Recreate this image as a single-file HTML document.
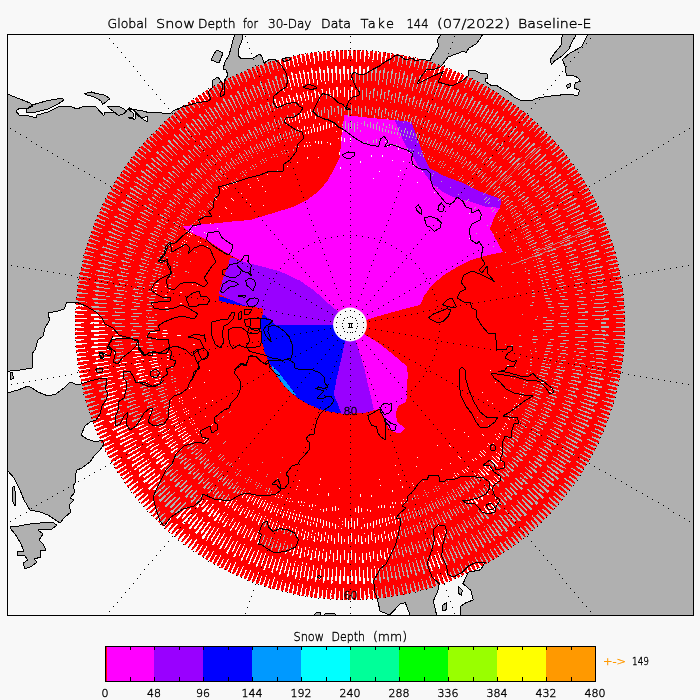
<!DOCTYPE html>
<html lang="en"><head><meta charset="utf-8"><title>Global Snow Depth</title>
<style>
html,body{margin:0;padding:0;background:#f8f8f8;}
body{width:700px;height:700px;overflow:hidden;}
svg{display:block;font-family:"DejaVu Sans","Liberation Sans",sans-serif;font-weight:200;}
text{stroke:#000;stroke-width:0.38px;}
</style></head><body>
<svg width="700" height="700" viewBox="0 0 700 700">
<defs>
<clipPath id="frame"><rect x="7.5" y="34.5" width="686" height="581"/></clipPath>
<mask id="gaps" maskUnits="userSpaceOnUse" x="0" y="0" width="700" height="700">
<rect x="0" y="0" width="700" height="700" fill="#fff"/>
<g fill="none" stroke="#000" shape-rendering="crispEdges">
<path d="M609.73 273.34A264.82 264.82 0 0 1 609.73 376.66" stroke-width="2.64" stroke-dasharray="0.681 7.6389" stroke-dashoffset="0.3403"/>
<path d="M609.73 376.66A264.82 264.82 0 0 1 570.19 472.13" stroke-width="2.64" stroke-dasharray="1.001 7.3185" stroke-dashoffset="0.5005"/>
<path d="M570.19 472.13A264.82 264.82 0 0 1 497.13 545.19" stroke-width="2.64" stroke-dasharray="1.201 7.1183" stroke-dashoffset="0.6006"/>
<path d="M497.13 545.19A264.82 264.82 0 0 1 401.66 584.73" stroke-width="2.64" stroke-dasharray="0.841 7.4787" stroke-dashoffset="0.4204"/>
<path d="M401.66 584.73A264.82 264.82 0 0 1 298.34 584.73" stroke-width="2.64" stroke-dasharray="0.801 7.5187" stroke-dashoffset="0.4004"/>
<path d="M298.34 584.73A264.82 264.82 0 0 1 202.87 545.19" stroke-width="2.64" stroke-dasharray="0.801 7.5187" stroke-dashoffset="0.4004"/>
<path d="M202.87 545.19A264.82 264.82 0 0 1 129.81 472.13" stroke-width="2.64" stroke-dasharray="1.161 7.1584" stroke-dashoffset="0.5806"/>
<path d="M129.81 472.13A264.82 264.82 0 0 1 90.27 376.66" stroke-width="2.64" stroke-dasharray="0.961 7.3586" stroke-dashoffset="0.4805"/>
<path d="M90.27 376.66A264.82 264.82 0 0 1 90.27 273.34" stroke-width="2.64" stroke-dasharray="0.841 7.4787" stroke-dashoffset="0.4204"/>
<path d="M90.27 273.34A264.82 264.82 0 0 1 129.81 177.87" stroke-width="2.64" stroke-dasharray="0.817 7.5027" stroke-dashoffset="0.4084"/>
<path d="M129.81 177.87A264.82 264.82 0 0 1 202.87 104.81" stroke-width="2.64" stroke-dasharray="0.817 7.5027" stroke-dashoffset="0.4084"/>
<path d="M202.87 104.81A264.82 264.82 0 0 1 298.34 65.27" stroke-width="2.64" stroke-dasharray="0.817 7.5027" stroke-dashoffset="0.4084"/>
<path d="M298.34 65.27A264.82 264.82 0 0 1 401.66 65.27" stroke-width="2.64" stroke-dasharray="0.817 7.5027" stroke-dashoffset="0.4084"/>
<path d="M401.66 65.27A264.82 264.82 0 0 1 497.13 104.81" stroke-width="2.64" stroke-dasharray="0.817 7.5027" stroke-dashoffset="0.4084"/>
<path d="M497.13 104.81A264.82 264.82 0 0 1 570.19 177.87" stroke-width="2.64" stroke-dasharray="0.841 7.4787" stroke-dashoffset="0.4204"/>
<path d="M570.19 177.87A264.82 264.82 0 0 1 609.73 273.34" stroke-width="2.64" stroke-dasharray="0.801 7.5187" stroke-dashoffset="0.4004"/>
<path d="M612.67 272.75A267.82 267.82 0 0 1 612.67 377.25" stroke-width="3.36" stroke-dasharray="0.836 3.3710" stroke-dashoffset="0.4180"/>
<path d="M612.67 377.25A267.82 267.82 0 0 1 572.68 473.79" stroke-width="3.36" stroke-dasharray="1.229 2.9776" stroke-dashoffset="0.6146"/>
<path d="M572.68 473.79A267.82 267.82 0 0 1 498.79 547.68" stroke-width="3.36" stroke-dasharray="1.475 2.7318" stroke-dashoffset="0.7376"/>
<path d="M498.79 547.68A267.82 267.82 0 0 1 402.25 587.67" stroke-width="3.36" stroke-dasharray="1.033 3.1743" stroke-dashoffset="0.5163"/>
<path d="M402.25 587.67A267.82 267.82 0 0 1 297.75 587.67" stroke-width="3.36" stroke-dasharray="0.983 3.2235" stroke-dashoffset="0.4917"/>
<path d="M297.75 587.67A267.82 267.82 0 0 1 201.21 547.68" stroke-width="3.36" stroke-dasharray="0.983 3.2235" stroke-dashoffset="0.4917"/>
<path d="M201.21 547.68A267.82 267.82 0 0 1 127.32 473.79" stroke-width="3.36" stroke-dasharray="1.426 2.7809" stroke-dashoffset="0.7130"/>
<path d="M127.32 473.79A267.82 267.82 0 0 1 87.33 377.25" stroke-width="3.36" stroke-dasharray="1.180 3.0268" stroke-dashoffset="0.5901"/>
<path d="M87.33 377.25A267.82 267.82 0 0 1 87.33 272.75" stroke-width="3.36" stroke-dasharray="1.033 3.1743" stroke-dashoffset="0.5163"/>
<path d="M87.33 272.75A267.82 267.82 0 0 1 127.32 176.21" stroke-width="3.36" stroke-dasharray="1.003 3.2038" stroke-dashoffset="0.5016"/>
<path d="M127.32 176.21A267.82 267.82 0 0 1 201.21 102.32" stroke-width="3.36" stroke-dasharray="1.003 3.2038" stroke-dashoffset="0.5016"/>
<path d="M201.21 102.32A267.82 267.82 0 0 1 297.75 62.33" stroke-width="3.36" stroke-dasharray="1.003 3.2038" stroke-dashoffset="0.5016"/>
<path d="M297.75 62.33A267.82 267.82 0 0 1 402.25 62.33" stroke-width="3.36" stroke-dasharray="1.003 3.2038" stroke-dashoffset="0.5016"/>
<path d="M402.25 62.33A267.82 267.82 0 0 1 498.79 102.32" stroke-width="3.36" stroke-dasharray="1.003 3.2038" stroke-dashoffset="0.5016"/>
<path d="M498.79 102.32A267.82 267.82 0 0 1 572.68 176.21" stroke-width="3.36" stroke-dasharray="1.033 3.1743" stroke-dashoffset="0.5163"/>
<path d="M572.68 176.21A267.82 267.82 0 0 1 612.67 272.75" stroke-width="3.36" stroke-dasharray="0.983 3.2235" stroke-dashoffset="0.4917"/>
<path d="M615.97 272.10A271.18 271.18 0 0 1 615.97 377.90" stroke-width="3.36" stroke-dasharray="1.145 3.1145" stroke-dashoffset="0.5726"/>
<path d="M615.97 377.90A271.18 271.18 0 0 1 575.48 475.66" stroke-width="3.36" stroke-dasharray="1.684 2.5757" stroke-dashoffset="0.8420"/>
<path d="M575.48 475.66A271.18 271.18 0 0 1 500.66 550.48" stroke-width="3.36" stroke-dasharray="2.021 2.2389" stroke-dashoffset="1.0104"/>
<path d="M500.66 550.48A271.18 271.18 0 0 1 402.90 590.97" stroke-width="3.36" stroke-dasharray="1.415 2.8451" stroke-dashoffset="0.7073"/>
<path d="M402.90 590.97A271.18 271.18 0 0 1 297.10 590.97" stroke-width="3.36" stroke-dasharray="1.347 2.9125" stroke-dashoffset="0.6736"/>
<path d="M297.10 590.97A271.18 271.18 0 0 1 199.34 550.48" stroke-width="3.36" stroke-dasharray="1.347 2.9125" stroke-dashoffset="0.6736"/>
<path d="M199.34 550.48A271.18 271.18 0 0 1 124.52 475.66" stroke-width="3.36" stroke-dasharray="1.953 2.3062" stroke-dashoffset="0.9767"/>
<path d="M124.52 475.66A271.18 271.18 0 0 1 84.03 377.90" stroke-width="3.36" stroke-dasharray="1.617 2.6430" stroke-dashoffset="0.8083"/>
<path d="M84.03 377.90A271.18 271.18 0 0 1 84.03 272.10" stroke-width="3.36" stroke-dasharray="1.415 2.8451" stroke-dashoffset="0.7073"/>
<path d="M84.03 272.10A271.18 271.18 0 0 1 124.52 174.34" stroke-width="3.36" stroke-dasharray="1.374 2.8855" stroke-dashoffset="0.6871"/>
<path d="M124.52 174.34A271.18 271.18 0 0 1 199.34 99.52" stroke-width="3.36" stroke-dasharray="1.374 2.8855" stroke-dashoffset="0.6871"/>
<path d="M199.34 99.52A271.18 271.18 0 0 1 297.10 59.03" stroke-width="3.36" stroke-dasharray="1.374 2.8855" stroke-dashoffset="0.6871"/>
<path d="M297.10 59.03A271.18 271.18 0 0 1 402.90 59.03" stroke-width="3.36" stroke-dasharray="1.374 2.8855" stroke-dashoffset="0.6871"/>
<path d="M402.90 59.03A271.18 271.18 0 0 1 500.66 99.52" stroke-width="3.36" stroke-dasharray="1.374 2.8855" stroke-dashoffset="0.6871"/>
<path d="M500.66 99.52A271.18 271.18 0 0 1 575.48 174.34" stroke-width="3.36" stroke-dasharray="1.415 2.8451" stroke-dashoffset="0.7073"/>
<path d="M575.48 174.34A271.18 271.18 0 0 1 615.97 272.10" stroke-width="3.36" stroke-dasharray="1.347 2.9125" stroke-dashoffset="0.6736"/>
<path d="M618.91 271.51A274.18 274.18 0 0 1 618.91 378.49" stroke-width="2.64" stroke-dasharray="1.510 2.7966" stroke-dashoffset="0.7551"/>
<path d="M618.91 378.49A274.18 274.18 0 0 1 577.97 477.33" stroke-width="2.64" stroke-dasharray="2.221 2.0860" stroke-dashoffset="1.1104"/>
<path d="M577.97 477.33A274.18 274.18 0 0 1 502.33 552.97" stroke-width="2.64" stroke-dasharray="2.665 1.6418" stroke-dashoffset="1.3325"/>
<path d="M502.33 552.97A274.18 274.18 0 0 1 403.49 593.91" stroke-width="2.64" stroke-dasharray="1.866 2.4413" stroke-dashoffset="0.9328"/>
<path d="M403.49 593.91A274.18 274.18 0 0 1 296.51 593.91" stroke-width="2.64" stroke-dasharray="1.777 2.5301" stroke-dashoffset="0.8883"/>
<path d="M296.51 593.91A274.18 274.18 0 0 1 197.67 552.97" stroke-width="2.64" stroke-dasharray="1.777 2.5301" stroke-dashoffset="0.8883"/>
<path d="M197.67 552.97A274.18 274.18 0 0 1 122.03 477.33" stroke-width="2.64" stroke-dasharray="2.576 1.7306" stroke-dashoffset="1.2881"/>
<path d="M122.03 477.33A274.18 274.18 0 0 1 81.09 378.49" stroke-width="2.64" stroke-dasharray="2.132 2.1748" stroke-dashoffset="1.0660"/>
<path d="M81.09 378.49A274.18 274.18 0 0 1 81.09 271.51" stroke-width="2.64" stroke-dasharray="1.866 2.4413" stroke-dashoffset="0.9328"/>
<path d="M81.09 271.51A274.18 274.18 0 0 1 122.03 172.67" stroke-width="2.64" stroke-dasharray="1.812 2.4946" stroke-dashoffset="0.9061"/>
<path d="M122.03 172.67A274.18 274.18 0 0 1 197.67 97.03" stroke-width="2.64" stroke-dasharray="1.812 2.4946" stroke-dashoffset="0.9061"/>
<path d="M197.67 97.03A274.18 274.18 0 0 1 296.51 56.09" stroke-width="2.64" stroke-dasharray="1.812 2.4946" stroke-dashoffset="0.9061"/>
<path d="M296.51 56.09A274.18 274.18 0 0 1 403.49 56.09" stroke-width="2.64" stroke-dasharray="1.812 2.4946" stroke-dashoffset="0.9061"/>
<path d="M403.49 56.09A274.18 274.18 0 0 1 502.33 97.03" stroke-width="2.64" stroke-dasharray="1.812 2.4946" stroke-dashoffset="0.9061"/>
<path d="M502.33 97.03A274.18 274.18 0 0 1 577.97 172.67" stroke-width="2.64" stroke-dasharray="1.866 2.4413" stroke-dashoffset="0.9328"/>
<path d="M577.97 172.67A274.18 274.18 0 0 1 618.91 271.51" stroke-width="2.64" stroke-dasharray="1.777 2.5301" stroke-dashoffset="0.8883"/>
<path d="M588.82 277.50A243.5 243.5 0 0 1 588.82 372.50" stroke-width="3" stroke-dasharray="0.626 7.0239" stroke-dashoffset="0.3129"/>
<path d="M588.82 372.50A243.5 243.5 0 0 1 552.46 460.28" stroke-width="3" stroke-dasharray="0.920 6.7293" stroke-dashoffset="0.4602"/>
<path d="M552.46 460.28A243.5 243.5 0 0 1 485.28 527.46" stroke-width="3" stroke-dasharray="1.105 6.5453" stroke-dashoffset="0.5523"/>
<path d="M485.28 527.46A243.5 243.5 0 0 1 397.50 563.82" stroke-width="3" stroke-dasharray="0.773 6.8766" stroke-dashoffset="0.3866"/>
<path d="M397.50 563.82A243.5 243.5 0 0 1 302.50 563.82" stroke-width="3" stroke-dasharray="0.736 6.9134" stroke-dashoffset="0.3682"/>
<path d="M302.50 563.82A243.5 243.5 0 0 1 214.72 527.46" stroke-width="3" stroke-dasharray="0.736 6.9134" stroke-dashoffset="0.3682"/>
<path d="M214.72 527.46A243.5 243.5 0 0 1 147.54 460.28" stroke-width="3" stroke-dasharray="1.068 6.5821" stroke-dashoffset="0.5338"/>
<path d="M147.54 460.28A243.5 243.5 0 0 1 111.18 372.50" stroke-width="3" stroke-dasharray="0.884 6.7662" stroke-dashoffset="0.4418"/>
<path d="M111.18 372.50A243.5 243.5 0 0 1 111.18 277.50" stroke-width="3" stroke-dasharray="0.773 6.8766" stroke-dashoffset="0.3866"/>
<path d="M111.18 277.50A243.5 243.5 0 0 1 147.54 189.72" stroke-width="3" stroke-dasharray="0.751 6.8987" stroke-dashoffset="0.3755"/>
<path d="M147.54 189.72A243.5 243.5 0 0 1 214.72 122.54" stroke-width="3" stroke-dasharray="0.751 6.8987" stroke-dashoffset="0.3755"/>
<path d="M214.72 122.54A243.5 243.5 0 0 1 302.50 86.18" stroke-width="3" stroke-dasharray="0.751 6.8987" stroke-dashoffset="0.3755"/>
<path d="M302.50 86.18A243.5 243.5 0 0 1 397.50 86.18" stroke-width="3" stroke-dasharray="0.751 6.8987" stroke-dashoffset="0.3755"/>
<path d="M397.50 86.18A243.5 243.5 0 0 1 485.28 122.54" stroke-width="3" stroke-dasharray="0.751 6.8987" stroke-dashoffset="0.3755"/>
<path d="M485.28 122.54A243.5 243.5 0 0 1 552.46 189.72" stroke-width="3" stroke-dasharray="0.773 6.8766" stroke-dashoffset="0.3866"/>
<path d="M552.46 189.72A243.5 243.5 0 0 1 588.82 277.50" stroke-width="3" stroke-dasharray="0.736 6.9134" stroke-dashoffset="0.3682"/>
<path d="M593.11 276.64A247.875 247.875 0 0 1 593.11 373.36" stroke-width="5.75" stroke-dasharray="0.774 3.1199" stroke-dashoffset="0.3868"/>
<path d="M593.11 373.36A247.875 247.875 0 0 1 556.10 462.71" stroke-width="5.75" stroke-dasharray="1.138 2.7559" stroke-dashoffset="0.5689"/>
<path d="M556.10 462.71A247.875 247.875 0 0 1 487.71 531.10" stroke-width="5.75" stroke-dasharray="1.365 2.5283" stroke-dashoffset="0.6826"/>
<path d="M487.71 531.10A247.875 247.875 0 0 1 398.36 568.11" stroke-width="5.75" stroke-dasharray="0.956 2.9379" stroke-dashoffset="0.4779"/>
<path d="M398.36 568.11A247.875 247.875 0 0 1 301.64 568.11" stroke-width="5.75" stroke-dasharray="0.910 2.9834" stroke-dashoffset="0.4551"/>
<path d="M301.64 568.11A247.875 247.875 0 0 1 212.29 531.10" stroke-width="5.75" stroke-dasharray="0.910 2.9834" stroke-dashoffset="0.4551"/>
<path d="M212.29 531.10A247.875 247.875 0 0 1 143.90 462.71" stroke-width="5.75" stroke-dasharray="1.320 2.5738" stroke-dashoffset="0.6599"/>
<path d="M143.90 462.71A247.875 247.875 0 0 1 106.89 373.36" stroke-width="5.75" stroke-dasharray="1.092 2.8014" stroke-dashoffset="0.5461"/>
<path d="M106.89 373.36A247.875 247.875 0 0 1 106.89 276.64" stroke-width="5.75" stroke-dasharray="0.956 2.9379" stroke-dashoffset="0.4779"/>
<path d="M106.89 276.64A247.875 247.875 0 0 1 143.90 187.29" stroke-width="5.75" stroke-dasharray="0.928 2.9652" stroke-dashoffset="0.4642"/>
<path d="M143.90 187.29A247.875 247.875 0 0 1 212.29 118.90" stroke-width="5.75" stroke-dasharray="0.928 2.9652" stroke-dashoffset="0.4642"/>
<path d="M212.29 118.90A247.875 247.875 0 0 1 301.64 81.89" stroke-width="5.75" stroke-dasharray="0.928 2.9652" stroke-dashoffset="0.4642"/>
<path d="M301.64 81.89A247.875 247.875 0 0 1 398.36 81.89" stroke-width="5.75" stroke-dasharray="0.928 2.9652" stroke-dashoffset="0.4642"/>
<path d="M398.36 81.89A247.875 247.875 0 0 1 487.71 118.90" stroke-width="5.75" stroke-dasharray="0.928 2.9652" stroke-dashoffset="0.4642"/>
<path d="M487.71 118.90A247.875 247.875 0 0 1 556.10 187.29" stroke-width="5.75" stroke-dasharray="0.956 2.9379" stroke-dashoffset="0.4779"/>
<path d="M556.10 187.29A247.875 247.875 0 0 1 593.11 276.64" stroke-width="5.75" stroke-dasharray="0.910 2.9834" stroke-dashoffset="0.4551"/>
<path d="M598.75 275.52A253.625 253.625 0 0 1 598.75 374.48" stroke-width="5.75" stroke-dasharray="1.071 2.9129" stroke-dashoffset="0.5355"/>
<path d="M598.75 374.48A253.625 253.625 0 0 1 560.88 465.91" stroke-width="5.75" stroke-dasharray="1.575 2.4089" stroke-dashoffset="0.7875"/>
<path d="M560.88 465.91A253.625 253.625 0 0 1 490.91 535.88" stroke-width="5.75" stroke-dasharray="1.890 2.0939" stroke-dashoffset="0.9450"/>
<path d="M490.91 535.88A253.625 253.625 0 0 1 399.48 573.75" stroke-width="5.75" stroke-dasharray="1.323 2.6609" stroke-dashoffset="0.6615"/>
<path d="M399.48 573.75A253.625 253.625 0 0 1 300.52 573.75" stroke-width="5.75" stroke-dasharray="1.260 2.7239" stroke-dashoffset="0.6300"/>
<path d="M300.52 573.75A253.625 253.625 0 0 1 209.09 535.88" stroke-width="5.75" stroke-dasharray="1.260 2.7239" stroke-dashoffset="0.6300"/>
<path d="M209.09 535.88A253.625 253.625 0 0 1 139.12 465.91" stroke-width="5.75" stroke-dasharray="1.827 2.1569" stroke-dashoffset="0.9135"/>
<path d="M139.12 465.91A253.625 253.625 0 0 1 101.25 374.48" stroke-width="5.75" stroke-dasharray="1.512 2.4719" stroke-dashoffset="0.7560"/>
<path d="M101.25 374.48A253.625 253.625 0 0 1 101.25 275.52" stroke-width="5.75" stroke-dasharray="1.323 2.6609" stroke-dashoffset="0.6615"/>
<path d="M101.25 275.52A253.625 253.625 0 0 1 139.12 184.09" stroke-width="5.75" stroke-dasharray="1.285 2.6987" stroke-dashoffset="0.6426"/>
<path d="M139.12 184.09A253.625 253.625 0 0 1 209.09 114.12" stroke-width="5.75" stroke-dasharray="1.285 2.6987" stroke-dashoffset="0.6426"/>
<path d="M209.09 114.12A253.625 253.625 0 0 1 300.52 76.25" stroke-width="5.75" stroke-dasharray="1.285 2.6987" stroke-dashoffset="0.6426"/>
<path d="M300.52 76.25A253.625 253.625 0 0 1 399.48 76.25" stroke-width="5.75" stroke-dasharray="1.285 2.6987" stroke-dashoffset="0.6426"/>
<path d="M399.48 76.25A253.625 253.625 0 0 1 490.91 114.12" stroke-width="5.75" stroke-dasharray="1.285 2.6987" stroke-dashoffset="0.6426"/>
<path d="M490.91 114.12A253.625 253.625 0 0 1 560.88 184.09" stroke-width="5.75" stroke-dasharray="1.323 2.6609" stroke-dashoffset="0.6615"/>
<path d="M560.88 184.09A253.625 253.625 0 0 1 598.75 275.52" stroke-width="5.75" stroke-dasharray="1.260 2.7239" stroke-dashoffset="0.6300"/>
<path d="M603.04 274.67A258 258 0 0 1 603.04 375.33" stroke-width="3" stroke-dasharray="1.326 6.7790" stroke-dashoffset="-3.3895"/>
<path d="M603.04 375.33A258 258 0 0 1 564.52 468.34" stroke-width="3" stroke-dasharray="1.950 6.1548" stroke-dashoffset="-3.0774"/>
<path d="M564.52 468.34A258 258 0 0 1 493.34 539.52" stroke-width="3" stroke-dasharray="2.341 5.7647" stroke-dashoffset="-2.8824"/>
<path d="M493.34 539.52A258 258 0 0 1 400.33 578.04" stroke-width="3" stroke-dasharray="1.638 6.4669" stroke-dashoffset="-3.2335"/>
<path d="M400.33 578.04A258 258 0 0 1 299.67 578.04" stroke-width="3" stroke-dasharray="1.560 6.5449" stroke-dashoffset="-3.2725"/>
<path d="M299.67 578.04A258 258 0 0 1 206.66 539.52" stroke-width="3" stroke-dasharray="1.560 6.5449" stroke-dashoffset="-3.2725"/>
<path d="M206.66 539.52A258 258 0 0 1 135.48 468.34" stroke-width="3" stroke-dasharray="2.263 5.8428" stroke-dashoffset="-2.9214"/>
<path d="M135.48 468.34A258 258 0 0 1 96.96 375.33" stroke-width="3" stroke-dasharray="1.872 6.2328" stroke-dashoffset="-3.1164"/>
<path d="M96.96 375.33A258 258 0 0 1 96.96 274.67" stroke-width="3" stroke-dasharray="1.638 6.4669" stroke-dashoffset="-3.2335"/>
<path d="M96.96 274.67A258 258 0 0 1 135.48 181.66" stroke-width="3" stroke-dasharray="1.592 6.5137" stroke-dashoffset="-3.2569"/>
<path d="M135.48 181.66A258 258 0 0 1 206.66 110.48" stroke-width="3" stroke-dasharray="1.592 6.5137" stroke-dashoffset="-3.2569"/>
<path d="M206.66 110.48A258 258 0 0 1 299.67 71.96" stroke-width="3" stroke-dasharray="1.592 6.5137" stroke-dashoffset="-3.2569"/>
<path d="M299.67 71.96A258 258 0 0 1 400.33 71.96" stroke-width="3" stroke-dasharray="1.592 6.5137" stroke-dashoffset="-3.2569"/>
<path d="M400.33 71.96A258 258 0 0 1 493.34 110.48" stroke-width="3" stroke-dasharray="1.592 6.5137" stroke-dashoffset="-3.2569"/>
<path d="M493.34 110.48A258 258 0 0 1 564.52 181.66" stroke-width="3" stroke-dasharray="1.638 6.4669" stroke-dashoffset="-3.2335"/>
<path d="M564.52 181.66A258 258 0 0 1 603.04 274.67" stroke-width="3" stroke-dasharray="1.560 6.5449" stroke-dashoffset="-3.2725"/>
<path d="M572.52 280.74A226.875 226.875 0 0 1 572.52 369.26" stroke-width="2.75" stroke-dasharray="0.551 6.5767" stroke-dashoffset="0.2754"/>
<path d="M572.52 369.26A226.875 226.875 0 0 1 538.64 451.04" stroke-width="2.75" stroke-dasharray="0.810 6.3175" stroke-dashoffset="0.4050"/>
<path d="M538.64 451.04A226.875 226.875 0 0 1 476.04 513.64" stroke-width="2.75" stroke-dasharray="0.972 6.1556" stroke-dashoffset="0.4860"/>
<path d="M476.04 513.64A226.875 226.875 0 0 1 394.26 547.52" stroke-width="2.75" stroke-dasharray="0.680 6.4471" stroke-dashoffset="0.3402"/>
<path d="M394.26 547.52A226.875 226.875 0 0 1 305.74 547.52" stroke-width="2.75" stroke-dasharray="0.648 6.4795" stroke-dashoffset="0.3240"/>
<path d="M305.74 547.52A226.875 226.875 0 0 1 223.96 513.64" stroke-width="2.75" stroke-dasharray="0.648 6.4795" stroke-dashoffset="0.3240"/>
<path d="M223.96 513.64A226.875 226.875 0 0 1 161.36 451.04" stroke-width="2.75" stroke-dasharray="0.940 6.1880" stroke-dashoffset="0.4698"/>
<path d="M161.36 451.04A226.875 226.875 0 0 1 127.48 369.26" stroke-width="2.75" stroke-dasharray="0.778 6.3499" stroke-dashoffset="0.3888"/>
<path d="M127.48 369.26A226.875 226.875 0 0 1 127.48 280.74" stroke-width="2.75" stroke-dasharray="0.680 6.4471" stroke-dashoffset="0.3402"/>
<path d="M127.48 280.74A226.875 226.875 0 0 1 161.36 198.96" stroke-width="2.75" stroke-dasharray="0.661 6.4666" stroke-dashoffset="0.3305"/>
<path d="M161.36 198.96A226.875 226.875 0 0 1 223.96 136.36" stroke-width="2.75" stroke-dasharray="0.661 6.4666" stroke-dashoffset="0.3305"/>
<path d="M223.96 136.36A226.875 226.875 0 0 1 305.74 102.48" stroke-width="2.75" stroke-dasharray="0.661 6.4666" stroke-dashoffset="0.3305"/>
<path d="M305.74 102.48A226.875 226.875 0 0 1 394.26 102.48" stroke-width="2.75" stroke-dasharray="0.661 6.4666" stroke-dashoffset="0.3305"/>
<path d="M394.26 102.48A226.875 226.875 0 0 1 476.04 136.36" stroke-width="2.75" stroke-dasharray="0.661 6.4666" stroke-dashoffset="0.3305"/>
<path d="M476.04 136.36A226.875 226.875 0 0 1 538.64 198.96" stroke-width="2.75" stroke-dasharray="0.680 6.4471" stroke-dashoffset="0.3402"/>
<path d="M538.64 198.96A226.875 226.875 0 0 1 572.52 280.74" stroke-width="2.75" stroke-dasharray="0.648 6.4795" stroke-dashoffset="0.3240"/>
<path d="M575.58 280.13A230 230 0 0 1 575.58 369.87" stroke-width="3.5" stroke-dasharray="0.678 2.9348" stroke-dashoffset="0.3390"/>
<path d="M575.58 369.87A230 230 0 0 1 541.24 452.78" stroke-width="3.5" stroke-dasharray="0.997 2.6158" stroke-dashoffset="0.4985"/>
<path d="M541.24 452.78A230 230 0 0 1 477.78 516.24" stroke-width="3.5" stroke-dasharray="1.196 2.4164" stroke-dashoffset="0.5982"/>
<path d="M477.78 516.24A230 230 0 0 1 394.87 550.58" stroke-width="3.5" stroke-dasharray="0.838 2.7753" stroke-dashoffset="0.4188"/>
<path d="M394.87 550.58A230 230 0 0 1 305.13 550.58" stroke-width="3.5" stroke-dasharray="0.798 2.8152" stroke-dashoffset="0.3988"/>
<path d="M305.13 550.58A230 230 0 0 1 222.22 516.24" stroke-width="3.5" stroke-dasharray="0.798 2.8152" stroke-dashoffset="0.3988"/>
<path d="M222.22 516.24A230 230 0 0 1 158.76 452.78" stroke-width="3.5" stroke-dasharray="1.157 2.4563" stroke-dashoffset="0.5783"/>
<path d="M158.76 452.78A230 230 0 0 1 124.42 369.87" stroke-width="3.5" stroke-dasharray="0.957 2.6557" stroke-dashoffset="0.4786"/>
<path d="M124.42 369.87A230 230 0 0 1 124.42 280.13" stroke-width="3.5" stroke-dasharray="0.838 2.7753" stroke-dashoffset="0.4188"/>
<path d="M124.42 280.13A230 230 0 0 1 158.76 197.22" stroke-width="3.5" stroke-dasharray="0.814 2.7992" stroke-dashoffset="0.4068"/>
<path d="M158.76 197.22A230 230 0 0 1 222.22 133.76" stroke-width="3.5" stroke-dasharray="0.814 2.7992" stroke-dashoffset="0.4068"/>
<path d="M222.22 133.76A230 230 0 0 1 305.13 99.42" stroke-width="3.5" stroke-dasharray="0.814 2.7992" stroke-dashoffset="0.4068"/>
<path d="M305.13 99.42A230 230 0 0 1 394.87 99.42" stroke-width="3.5" stroke-dasharray="0.814 2.7992" stroke-dashoffset="0.4068"/>
<path d="M394.87 99.42A230 230 0 0 1 477.78 133.76" stroke-width="3.5" stroke-dasharray="0.814 2.7992" stroke-dashoffset="0.4068"/>
<path d="M477.78 133.76A230 230 0 0 1 541.24 197.22" stroke-width="3.5" stroke-dasharray="0.838 2.7753" stroke-dashoffset="0.4188"/>
<path d="M541.24 197.22A230 230 0 0 1 575.58 280.13" stroke-width="3.5" stroke-dasharray="0.798 2.8152" stroke-dashoffset="0.3988"/>
<path d="M579.01 279.45A233.5 233.5 0 0 1 579.01 370.55" stroke-width="3.5" stroke-dasharray="0.931 2.7366" stroke-dashoffset="0.4656"/>
<path d="M579.01 370.55A233.5 233.5 0 0 1 544.15 454.73" stroke-width="3.5" stroke-dasharray="1.369 2.2983" stroke-dashoffset="0.6847"/>
<path d="M544.15 454.73A233.5 233.5 0 0 1 479.73 519.15" stroke-width="3.5" stroke-dasharray="1.643 2.0244" stroke-dashoffset="0.8217"/>
<path d="M479.73 519.15A233.5 233.5 0 0 1 395.55 554.01" stroke-width="3.5" stroke-dasharray="1.150 2.5174" stroke-dashoffset="0.5752"/>
<path d="M395.55 554.01A233.5 233.5 0 0 1 304.45 554.01" stroke-width="3.5" stroke-dasharray="1.096 2.5722" stroke-dashoffset="0.5478"/>
<path d="M304.45 554.01A233.5 233.5 0 0 1 220.27 519.15" stroke-width="3.5" stroke-dasharray="1.096 2.5722" stroke-dashoffset="0.5478"/>
<path d="M220.27 519.15A233.5 233.5 0 0 1 155.85 454.73" stroke-width="3.5" stroke-dasharray="1.589 2.0792" stroke-dashoffset="0.7943"/>
<path d="M155.85 454.73A233.5 233.5 0 0 1 120.99 370.55" stroke-width="3.5" stroke-dasharray="1.315 2.3531" stroke-dashoffset="0.6573"/>
<path d="M120.99 370.55A233.5 233.5 0 0 1 120.99 279.45" stroke-width="3.5" stroke-dasharray="1.150 2.5174" stroke-dashoffset="0.5752"/>
<path d="M120.99 279.45A233.5 233.5 0 0 1 155.85 195.27" stroke-width="3.5" stroke-dasharray="1.117 2.5503" stroke-dashoffset="0.5587"/>
<path d="M155.85 195.27A233.5 233.5 0 0 1 220.27 130.85" stroke-width="3.5" stroke-dasharray="1.117 2.5503" stroke-dashoffset="0.5587"/>
<path d="M220.27 130.85A233.5 233.5 0 0 1 304.45 95.99" stroke-width="3.5" stroke-dasharray="1.117 2.5503" stroke-dashoffset="0.5587"/>
<path d="M304.45 95.99A233.5 233.5 0 0 1 395.55 95.99" stroke-width="3.5" stroke-dasharray="1.117 2.5503" stroke-dashoffset="0.5587"/>
<path d="M395.55 95.99A233.5 233.5 0 0 1 479.73 130.85" stroke-width="3.5" stroke-dasharray="1.117 2.5503" stroke-dashoffset="0.5587"/>
<path d="M479.73 130.85A233.5 233.5 0 0 1 544.15 195.27" stroke-width="3.5" stroke-dasharray="1.150 2.5174" stroke-dashoffset="0.5752"/>
<path d="M544.15 195.27A233.5 233.5 0 0 1 579.01 279.45" stroke-width="3.5" stroke-dasharray="1.096 2.5722" stroke-dashoffset="0.5478"/>
<path d="M582.08 278.84A236.625 236.625 0 0 1 582.08 371.16" stroke-width="2.75" stroke-dasharray="1.149 6.2849" stroke-dashoffset="-3.1425"/>
<path d="M582.08 371.16A236.625 236.625 0 0 1 546.75 456.46" stroke-width="2.75" stroke-dasharray="1.690 5.7443" stroke-dashoffset="-2.8721"/>
<path d="M546.75 456.46A236.625 236.625 0 0 1 481.46 521.75" stroke-width="2.75" stroke-dasharray="2.027 5.4064" stroke-dashoffset="-2.7032"/>
<path d="M481.46 521.75A236.625 236.625 0 0 1 396.16 557.08" stroke-width="2.75" stroke-dasharray="1.419 6.0146" stroke-dashoffset="-3.0073"/>
<path d="M396.16 557.08A236.625 236.625 0 0 1 303.84 557.08" stroke-width="2.75" stroke-dasharray="1.352 6.0822" stroke-dashoffset="-3.0411"/>
<path d="M303.84 557.08A236.625 236.625 0 0 1 218.54 521.75" stroke-width="2.75" stroke-dasharray="1.352 6.0822" stroke-dashoffset="-3.0411"/>
<path d="M218.54 521.75A236.625 236.625 0 0 1 153.25 456.46" stroke-width="2.75" stroke-dasharray="1.960 5.4740" stroke-dashoffset="-2.7370"/>
<path d="M153.25 456.46A236.625 236.625 0 0 1 117.92 371.16" stroke-width="2.75" stroke-dasharray="1.622 5.8119" stroke-dashoffset="-2.9059"/>
<path d="M117.92 371.16A236.625 236.625 0 0 1 117.92 278.84" stroke-width="2.75" stroke-dasharray="1.419 6.0146" stroke-dashoffset="-3.0073"/>
<path d="M117.92 278.84A236.625 236.625 0 0 1 153.25 193.54" stroke-width="2.75" stroke-dasharray="1.379 6.0552" stroke-dashoffset="-3.0276"/>
<path d="M153.25 193.54A236.625 236.625 0 0 1 218.54 128.25" stroke-width="2.75" stroke-dasharray="1.379 6.0552" stroke-dashoffset="-3.0276"/>
<path d="M218.54 128.25A236.625 236.625 0 0 1 303.84 92.92" stroke-width="2.75" stroke-dasharray="1.379 6.0552" stroke-dashoffset="-3.0276"/>
<path d="M303.84 92.92A236.625 236.625 0 0 1 396.16 92.92" stroke-width="2.75" stroke-dasharray="1.379 6.0552" stroke-dashoffset="-3.0276"/>
<path d="M396.16 92.92A236.625 236.625 0 0 1 481.46 128.25" stroke-width="2.75" stroke-dasharray="1.379 6.0552" stroke-dashoffset="-3.0276"/>
<path d="M481.46 128.25A236.625 236.625 0 0 1 546.75 193.54" stroke-width="2.75" stroke-dasharray="1.419 6.0146" stroke-dashoffset="-3.0073"/>
<path d="M546.75 193.54A236.625 236.625 0 0 1 582.08 278.84" stroke-width="2.75" stroke-dasharray="1.352 6.0822" stroke-dashoffset="-3.0411"/>
<path d="M555.68 284.09A209.71 209.71 0 0 1 555.68 365.91" stroke-width="2.42" stroke-dasharray="0.474 6.1141" stroke-dashoffset="0.2371"/>
<path d="M555.68 365.91A209.71 209.71 0 0 1 524.37 441.51" stroke-width="2.42" stroke-dasharray="0.697 5.8909" stroke-dashoffset="0.3486"/>
<path d="M524.37 441.51A209.71 209.71 0 0 1 466.51 499.37" stroke-width="2.42" stroke-dasharray="0.837 5.7515" stroke-dashoffset="0.4184"/>
<path d="M466.51 499.37A209.71 209.71 0 0 1 390.91 530.68" stroke-width="2.42" stroke-dasharray="0.586 6.0025" stroke-dashoffset="0.2929"/>
<path d="M390.91 530.68A209.71 209.71 0 0 1 309.09 530.68" stroke-width="2.42" stroke-dasharray="0.558 6.0304" stroke-dashoffset="0.2789"/>
<path d="M309.09 530.68A209.71 209.71 0 0 1 233.49 499.37" stroke-width="2.42" stroke-dasharray="0.558 6.0304" stroke-dashoffset="0.2789"/>
<path d="M233.49 499.37A209.71 209.71 0 0 1 175.63 441.51" stroke-width="2.42" stroke-dasharray="0.809 5.7794" stroke-dashoffset="0.4044"/>
<path d="M175.63 441.51A209.71 209.71 0 0 1 144.32 365.91" stroke-width="2.42" stroke-dasharray="0.669 5.9188" stroke-dashoffset="0.3347"/>
<path d="M144.32 365.91A209.71 209.71 0 0 1 144.32 284.09" stroke-width="2.42" stroke-dasharray="0.586 6.0025" stroke-dashoffset="0.2929"/>
<path d="M144.32 284.09A209.71 209.71 0 0 1 175.63 208.49" stroke-width="2.42" stroke-dasharray="0.569 6.0192" stroke-dashoffset="0.2845"/>
<path d="M175.63 208.49A209.71 209.71 0 0 1 233.49 150.63" stroke-width="2.42" stroke-dasharray="0.569 6.0192" stroke-dashoffset="0.2845"/>
<path d="M233.49 150.63A209.71 209.71 0 0 1 309.09 119.32" stroke-width="2.42" stroke-dasharray="0.569 6.0192" stroke-dashoffset="0.2845"/>
<path d="M309.09 119.32A209.71 209.71 0 0 1 390.91 119.32" stroke-width="2.42" stroke-dasharray="0.569 6.0192" stroke-dashoffset="0.2845"/>
<path d="M390.91 119.32A209.71 209.71 0 0 1 466.51 150.63" stroke-width="2.42" stroke-dasharray="0.569 6.0192" stroke-dashoffset="0.2845"/>
<path d="M466.51 150.63A209.71 209.71 0 0 1 524.37 208.49" stroke-width="2.42" stroke-dasharray="0.586 6.0025" stroke-dashoffset="0.2929"/>
<path d="M524.37 208.49A209.71 209.71 0 0 1 555.68 284.09" stroke-width="2.42" stroke-dasharray="0.558 6.0304" stroke-dashoffset="0.2789"/>
<path d="M558.38 283.55A212.46 212.46 0 0 1 558.38 366.45" stroke-width="3.08" stroke-dasharray="0.583 2.7540" stroke-dashoffset="0.2917"/>
<path d="M558.38 366.45A212.46 212.46 0 0 1 526.65 443.04" stroke-width="3.08" stroke-dasharray="0.858 2.4795" stroke-dashoffset="0.4289"/>
<path d="M526.65 443.04A212.46 212.46 0 0 1 468.04 501.65" stroke-width="3.08" stroke-dasharray="1.029 2.3079" stroke-dashoffset="0.5147"/>
<path d="M468.04 501.65A212.46 212.46 0 0 1 391.45 533.38" stroke-width="3.08" stroke-dasharray="0.721 2.6168" stroke-dashoffset="0.3603"/>
<path d="M391.45 533.38A212.46 212.46 0 0 1 308.55 533.38" stroke-width="3.08" stroke-dasharray="0.686 2.6511" stroke-dashoffset="0.3431"/>
<path d="M308.55 533.38A212.46 212.46 0 0 1 231.96 501.65" stroke-width="3.08" stroke-dasharray="0.686 2.6511" stroke-dashoffset="0.3431"/>
<path d="M231.96 501.65A212.46 212.46 0 0 1 173.35 443.04" stroke-width="3.08" stroke-dasharray="0.995 2.3423" stroke-dashoffset="0.4975"/>
<path d="M173.35 443.04A212.46 212.46 0 0 1 141.62 366.45" stroke-width="3.08" stroke-dasharray="0.823 2.5138" stroke-dashoffset="0.4117"/>
<path d="M141.62 366.45A212.46 212.46 0 0 1 141.62 283.55" stroke-width="3.08" stroke-dasharray="0.721 2.6168" stroke-dashoffset="0.3603"/>
<path d="M141.62 283.55A212.46 212.46 0 0 1 173.35 206.96" stroke-width="3.08" stroke-dasharray="0.700 2.6373" stroke-dashoffset="0.3500"/>
<path d="M173.35 206.96A212.46 212.46 0 0 1 231.96 148.35" stroke-width="3.08" stroke-dasharray="0.700 2.6373" stroke-dashoffset="0.3500"/>
<path d="M231.96 148.35A212.46 212.46 0 0 1 308.55 116.62" stroke-width="3.08" stroke-dasharray="0.700 2.6373" stroke-dashoffset="0.3500"/>
<path d="M308.55 116.62A212.46 212.46 0 0 1 391.45 116.62" stroke-width="3.08" stroke-dasharray="0.700 2.6373" stroke-dashoffset="0.3500"/>
<path d="M391.45 116.62A212.46 212.46 0 0 1 468.04 148.35" stroke-width="3.08" stroke-dasharray="0.700 2.6373" stroke-dashoffset="0.3500"/>
<path d="M468.04 148.35A212.46 212.46 0 0 1 526.65 206.96" stroke-width="3.08" stroke-dasharray="0.721 2.6168" stroke-dashoffset="0.3603"/>
<path d="M526.65 206.96A212.46 212.46 0 0 1 558.38 283.55" stroke-width="3.08" stroke-dasharray="0.686 2.6511" stroke-dashoffset="0.3431"/>
<path d="M561.40 282.95A215.54 215.54 0 0 1 561.40 367.05" stroke-width="3.08" stroke-dasharray="0.801 2.5851" stroke-dashoffset="0.4003"/>
<path d="M561.40 367.05A215.54 215.54 0 0 1 529.21 444.75" stroke-width="3.08" stroke-dasharray="1.177 2.2083" stroke-dashoffset="0.5887"/>
<path d="M529.21 444.75A215.54 215.54 0 0 1 469.75 504.21" stroke-width="3.08" stroke-dasharray="1.413 1.9728" stroke-dashoffset="0.7064"/>
<path d="M469.75 504.21A215.54 215.54 0 0 1 392.05 536.40" stroke-width="3.08" stroke-dasharray="0.989 2.3967" stroke-dashoffset="0.4945"/>
<path d="M392.05 536.40A215.54 215.54 0 0 1 307.95 536.40" stroke-width="3.08" stroke-dasharray="0.942 2.4438" stroke-dashoffset="0.4710"/>
<path d="M307.95 536.40A215.54 215.54 0 0 1 230.25 504.21" stroke-width="3.08" stroke-dasharray="0.942 2.4438" stroke-dashoffset="0.4710"/>
<path d="M230.25 504.21A215.54 215.54 0 0 1 170.79 444.75" stroke-width="3.08" stroke-dasharray="1.366 2.0199" stroke-dashoffset="0.6829"/>
<path d="M170.79 444.75A215.54 215.54 0 0 1 138.60 367.05" stroke-width="3.08" stroke-dasharray="1.130 2.2554" stroke-dashoffset="0.5651"/>
<path d="M138.60 367.05A215.54 215.54 0 0 1 138.60 282.95" stroke-width="3.08" stroke-dasharray="0.989 2.3967" stroke-dashoffset="0.4945"/>
<path d="M138.60 282.95A215.54 215.54 0 0 1 170.79 205.25" stroke-width="3.08" stroke-dasharray="0.961 2.4249" stroke-dashoffset="0.4804"/>
<path d="M170.79 205.25A215.54 215.54 0 0 1 230.25 145.79" stroke-width="3.08" stroke-dasharray="0.961 2.4249" stroke-dashoffset="0.4804"/>
<path d="M230.25 145.79A215.54 215.54 0 0 1 307.95 113.60" stroke-width="3.08" stroke-dasharray="0.961 2.4249" stroke-dashoffset="0.4804"/>
<path d="M307.95 113.60A215.54 215.54 0 0 1 392.05 113.60" stroke-width="3.08" stroke-dasharray="0.961 2.4249" stroke-dashoffset="0.4804"/>
<path d="M392.05 113.60A215.54 215.54 0 0 1 469.75 145.79" stroke-width="3.08" stroke-dasharray="0.961 2.4249" stroke-dashoffset="0.4804"/>
<path d="M469.75 145.79A215.54 215.54 0 0 1 529.21 205.25" stroke-width="3.08" stroke-dasharray="0.989 2.3967" stroke-dashoffset="0.4945"/>
<path d="M529.21 205.25A215.54 215.54 0 0 1 561.40 282.95" stroke-width="3.08" stroke-dasharray="0.942 2.4438" stroke-dashoffset="0.4710"/>
<path d="M564.10 282.41A218.29 218.29 0 0 1 564.10 367.59" stroke-width="2.42" stroke-dasharray="0.987 5.8707" stroke-dashoffset="-2.9353"/>
<path d="M564.10 367.59A218.29 218.29 0 0 1 531.50 446.28" stroke-width="2.42" stroke-dasharray="1.452 5.4062" stroke-dashoffset="-2.7031"/>
<path d="M531.50 446.28A218.29 218.29 0 0 1 471.28 506.50" stroke-width="2.42" stroke-dasharray="1.742 5.1158" stroke-dashoffset="-2.5579"/>
<path d="M471.28 506.50A218.29 218.29 0 0 1 392.59 539.10" stroke-width="2.42" stroke-dasharray="1.219 5.6384" stroke-dashoffset="-2.8192"/>
<path d="M392.59 539.10A218.29 218.29 0 0 1 307.41 539.10" stroke-width="2.42" stroke-dasharray="1.161 5.6965" stroke-dashoffset="-2.8482"/>
<path d="M307.41 539.10A218.29 218.29 0 0 1 228.72 506.50" stroke-width="2.42" stroke-dasharray="1.161 5.6965" stroke-dashoffset="-2.8482"/>
<path d="M228.72 506.50A218.29 218.29 0 0 1 168.50 446.28" stroke-width="2.42" stroke-dasharray="1.684 5.1739" stroke-dashoffset="-2.5869"/>
<path d="M168.50 446.28A218.29 218.29 0 0 1 135.90 367.59" stroke-width="2.42" stroke-dasharray="1.394 5.4642" stroke-dashoffset="-2.7321"/>
<path d="M135.90 367.59A218.29 218.29 0 0 1 135.90 282.41" stroke-width="2.42" stroke-dasharray="1.219 5.6384" stroke-dashoffset="-2.8192"/>
<path d="M135.90 282.41A218.29 218.29 0 0 1 168.50 203.72" stroke-width="2.42" stroke-dasharray="1.185 5.6733" stroke-dashoffset="-2.8366"/>
<path d="M168.50 203.72A218.29 218.29 0 0 1 228.72 143.50" stroke-width="2.42" stroke-dasharray="1.185 5.6733" stroke-dashoffset="-2.8366"/>
<path d="M228.72 143.50A218.29 218.29 0 0 1 307.41 110.90" stroke-width="2.42" stroke-dasharray="1.185 5.6733" stroke-dashoffset="-2.8366"/>
<path d="M307.41 110.90A218.29 218.29 0 0 1 392.59 110.90" stroke-width="2.42" stroke-dasharray="1.185 5.6733" stroke-dashoffset="-2.8366"/>
<path d="M392.59 110.90A218.29 218.29 0 0 1 471.28 143.50" stroke-width="2.42" stroke-dasharray="1.185 5.6733" stroke-dashoffset="-2.8366"/>
<path d="M471.28 143.50A218.29 218.29 0 0 1 531.50 203.72" stroke-width="2.42" stroke-dasharray="1.219 5.6384" stroke-dashoffset="-2.8192"/>
<path d="M531.50 203.72A218.29 218.29 0 0 1 564.10 282.41" stroke-width="2.42" stroke-dasharray="1.161 5.6965" stroke-dashoffset="-2.8482"/>
<path d="M540.97 287.01A194.71 194.71 0 0 1 540.97 362.99" stroke-width="2.42" stroke-dasharray="0.394 5.7231" stroke-dashoffset="0.1969"/>
<path d="M540.97 362.99A194.71 194.71 0 0 1 511.90 433.18" stroke-width="2.42" stroke-dasharray="0.579 5.5377" stroke-dashoffset="0.2896"/>
<path d="M511.90 433.18A194.71 194.71 0 0 1 458.18 486.90" stroke-width="2.42" stroke-dasharray="0.695 5.4219" stroke-dashoffset="0.3476"/>
<path d="M458.18 486.90A194.71 194.71 0 0 1 387.99 515.97" stroke-width="2.42" stroke-dasharray="0.487 5.6304" stroke-dashoffset="0.2433"/>
<path d="M387.99 515.97A194.71 194.71 0 0 1 312.01 515.97" stroke-width="2.42" stroke-dasharray="0.463 5.6536" stroke-dashoffset="0.2317"/>
<path d="M312.01 515.97A194.71 194.71 0 0 1 241.82 486.90" stroke-width="2.42" stroke-dasharray="0.463 5.6536" stroke-dashoffset="0.2317"/>
<path d="M241.82 486.90A194.71 194.71 0 0 1 188.10 433.18" stroke-width="2.42" stroke-dasharray="0.672 5.4451" stroke-dashoffset="0.3360"/>
<path d="M188.10 433.18A194.71 194.71 0 0 1 159.03 362.99" stroke-width="2.42" stroke-dasharray="0.556 5.5609" stroke-dashoffset="0.2780"/>
<path d="M159.03 362.99A194.71 194.71 0 0 1 159.03 287.01" stroke-width="2.42" stroke-dasharray="0.487 5.6304" stroke-dashoffset="0.2433"/>
<path d="M159.03 287.01A194.71 194.71 0 0 1 188.10 216.82" stroke-width="2.42" stroke-dasharray="0.473 5.6443" stroke-dashoffset="0.2363"/>
<path d="M188.10 216.82A194.71 194.71 0 0 1 241.82 163.10" stroke-width="2.42" stroke-dasharray="0.473 5.6443" stroke-dashoffset="0.2363"/>
<path d="M241.82 163.10A194.71 194.71 0 0 1 312.01 134.03" stroke-width="2.42" stroke-dasharray="0.473 5.6443" stroke-dashoffset="0.2363"/>
<path d="M312.01 134.03A194.71 194.71 0 0 1 387.99 134.03" stroke-width="2.42" stroke-dasharray="0.473 5.6443" stroke-dashoffset="0.2363"/>
<path d="M387.99 134.03A194.71 194.71 0 0 1 458.18 163.10" stroke-width="2.42" stroke-dasharray="0.473 5.6443" stroke-dashoffset="0.2363"/>
<path d="M458.18 163.10A194.71 194.71 0 0 1 511.90 216.82" stroke-width="2.42" stroke-dasharray="0.487 5.6304" stroke-dashoffset="0.2433"/>
<path d="M511.90 216.82A194.71 194.71 0 0 1 540.97 287.01" stroke-width="2.42" stroke-dasharray="0.463 5.6536" stroke-dashoffset="0.2317"/>
<path d="M543.67 286.48A197.46 197.46 0 0 1 543.67 363.52" stroke-width="3.08" stroke-dasharray="0.485 2.6166" stroke-dashoffset="0.2425"/>
<path d="M543.67 363.52A197.46 197.46 0 0 1 514.18 434.70" stroke-width="3.08" stroke-dasharray="0.713 2.3884" stroke-dashoffset="0.3567"/>
<path d="M514.18 434.70A197.46 197.46 0 0 1 459.70 489.18" stroke-width="3.08" stroke-dasharray="0.856 2.2457" stroke-dashoffset="0.4280"/>
<path d="M459.70 489.18A197.46 197.46 0 0 1 388.52 518.67" stroke-width="3.08" stroke-dasharray="0.599 2.5025" stroke-dashoffset="0.2996"/>
<path d="M388.52 518.67A197.46 197.46 0 0 1 311.48 518.67" stroke-width="3.08" stroke-dasharray="0.571 2.5310" stroke-dashoffset="0.2853"/>
<path d="M311.48 518.67A197.46 197.46 0 0 1 240.30 489.18" stroke-width="3.08" stroke-dasharray="0.571 2.5310" stroke-dashoffset="0.2853"/>
<path d="M240.30 489.18A197.46 197.46 0 0 1 185.82 434.70" stroke-width="3.08" stroke-dasharray="0.827 2.2742" stroke-dashoffset="0.4137"/>
<path d="M185.82 434.70A197.46 197.46 0 0 1 156.33 363.52" stroke-width="3.08" stroke-dasharray="0.685 2.4169" stroke-dashoffset="0.3424"/>
<path d="M156.33 363.52A197.46 197.46 0 0 1 156.33 286.48" stroke-width="3.08" stroke-dasharray="0.599 2.5025" stroke-dashoffset="0.2996"/>
<path d="M156.33 286.48A197.46 197.46 0 0 1 185.82 215.30" stroke-width="3.08" stroke-dasharray="0.582 2.5196" stroke-dashoffset="0.2910"/>
<path d="M185.82 215.30A197.46 197.46 0 0 1 240.30 160.82" stroke-width="3.08" stroke-dasharray="0.582 2.5196" stroke-dashoffset="0.2910"/>
<path d="M240.30 160.82A197.46 197.46 0 0 1 311.48 131.33" stroke-width="3.08" stroke-dasharray="0.582 2.5196" stroke-dashoffset="0.2910"/>
<path d="M311.48 131.33A197.46 197.46 0 0 1 388.52 131.33" stroke-width="3.08" stroke-dasharray="0.582 2.5196" stroke-dashoffset="0.2910"/>
<path d="M388.52 131.33A197.46 197.46 0 0 1 459.70 160.82" stroke-width="3.08" stroke-dasharray="0.582 2.5196" stroke-dashoffset="0.2910"/>
<path d="M459.70 160.82A197.46 197.46 0 0 1 514.18 215.30" stroke-width="3.08" stroke-dasharray="0.599 2.5025" stroke-dashoffset="0.2996"/>
<path d="M514.18 215.30A197.46 197.46 0 0 1 543.67 286.48" stroke-width="3.08" stroke-dasharray="0.571 2.5310" stroke-dashoffset="0.2853"/>
<path d="M546.69 285.88A200.54 200.54 0 0 1 546.69 364.12" stroke-width="3.08" stroke-dasharray="0.666 2.4836" stroke-dashoffset="0.3332"/>
<path d="M546.69 364.12A200.54 200.54 0 0 1 516.74 436.41" stroke-width="3.08" stroke-dasharray="0.980 2.1699" stroke-dashoffset="0.4901"/>
<path d="M516.74 436.41A200.54 200.54 0 0 1 461.41 491.74" stroke-width="3.08" stroke-dasharray="1.176 1.9739" stroke-dashoffset="0.5881"/>
<path d="M461.41 491.74A200.54 200.54 0 0 1 389.12 521.69" stroke-width="3.08" stroke-dasharray="0.823 2.3268" stroke-dashoffset="0.4117"/>
<path d="M389.12 521.69A200.54 200.54 0 0 1 310.88 521.69" stroke-width="3.08" stroke-dasharray="0.784 2.3660" stroke-dashoffset="0.3921"/>
<path d="M310.88 521.69A200.54 200.54 0 0 1 238.59 491.74" stroke-width="3.08" stroke-dasharray="0.784 2.3660" stroke-dashoffset="0.3921"/>
<path d="M238.59 491.74A200.54 200.54 0 0 1 183.26 436.41" stroke-width="3.08" stroke-dasharray="1.137 2.0131" stroke-dashoffset="0.5685"/>
<path d="M183.26 436.41A200.54 200.54 0 0 1 153.31 364.12" stroke-width="3.08" stroke-dasharray="0.941 2.2091" stroke-dashoffset="0.4705"/>
<path d="M153.31 364.12A200.54 200.54 0 0 1 153.31 285.88" stroke-width="3.08" stroke-dasharray="0.823 2.3268" stroke-dashoffset="0.4117"/>
<path d="M153.31 285.88A200.54 200.54 0 0 1 183.26 213.59" stroke-width="3.08" stroke-dasharray="0.800 2.3503" stroke-dashoffset="0.3999"/>
<path d="M183.26 213.59A200.54 200.54 0 0 1 238.59 158.26" stroke-width="3.08" stroke-dasharray="0.800 2.3503" stroke-dashoffset="0.3999"/>
<path d="M238.59 158.26A200.54 200.54 0 0 1 310.88 128.31" stroke-width="3.08" stroke-dasharray="0.800 2.3503" stroke-dashoffset="0.3999"/>
<path d="M310.88 128.31A200.54 200.54 0 0 1 389.12 128.31" stroke-width="3.08" stroke-dasharray="0.800 2.3503" stroke-dashoffset="0.3999"/>
<path d="M389.12 128.31A200.54 200.54 0 0 1 461.41 158.26" stroke-width="3.08" stroke-dasharray="0.800 2.3503" stroke-dashoffset="0.3999"/>
<path d="M461.41 158.26A200.54 200.54 0 0 1 516.74 213.59" stroke-width="3.08" stroke-dasharray="0.823 2.3268" stroke-dashoffset="0.4117"/>
<path d="M516.74 213.59A200.54 200.54 0 0 1 546.69 285.88" stroke-width="3.08" stroke-dasharray="0.784 2.3660" stroke-dashoffset="0.3921"/>
<path d="M549.38 285.34A203.29 203.29 0 0 1 549.38 364.66" stroke-width="2.42" stroke-dasharray="0.823 5.5640" stroke-dashoffset="-2.7820"/>
<path d="M549.38 364.66A203.29 203.29 0 0 1 519.03 437.94" stroke-width="2.42" stroke-dasharray="1.210 5.1770" stroke-dashoffset="-2.5885"/>
<path d="M519.03 437.94A203.29 203.29 0 0 1 462.94 494.03" stroke-width="2.42" stroke-dasharray="1.451 4.9351" stroke-dashoffset="-2.4675"/>
<path d="M462.94 494.03A203.29 203.29 0 0 1 389.66 524.38" stroke-width="2.42" stroke-dasharray="1.016 5.3705" stroke-dashoffset="-2.6853"/>
<path d="M389.66 524.38A203.29 203.29 0 0 1 310.34 524.38" stroke-width="2.42" stroke-dasharray="0.968 5.4189" stroke-dashoffset="-2.7094"/>
<path d="M310.34 524.38A203.29 203.29 0 0 1 237.06 494.03" stroke-width="2.42" stroke-dasharray="0.968 5.4189" stroke-dashoffset="-2.7094"/>
<path d="M237.06 494.03A203.29 203.29 0 0 1 180.97 437.94" stroke-width="2.42" stroke-dasharray="1.403 4.9834" stroke-dashoffset="-2.4917"/>
<path d="M180.97 437.94A203.29 203.29 0 0 1 150.62 364.66" stroke-width="2.42" stroke-dasharray="1.161 5.2254" stroke-dashoffset="-2.6127"/>
<path d="M150.62 364.66A203.29 203.29 0 0 1 150.62 285.34" stroke-width="2.42" stroke-dasharray="1.016 5.3705" stroke-dashoffset="-2.6853"/>
<path d="M150.62 285.34A203.29 203.29 0 0 1 180.97 212.06" stroke-width="2.42" stroke-dasharray="0.987 5.3995" stroke-dashoffset="-2.6998"/>
<path d="M180.97 212.06A203.29 203.29 0 0 1 237.06 155.97" stroke-width="2.42" stroke-dasharray="0.987 5.3995" stroke-dashoffset="-2.6998"/>
<path d="M237.06 155.97A203.29 203.29 0 0 1 310.34 125.62" stroke-width="2.42" stroke-dasharray="0.987 5.3995" stroke-dashoffset="-2.6998"/>
<path d="M310.34 125.62A203.29 203.29 0 0 1 389.66 125.62" stroke-width="2.42" stroke-dasharray="0.987 5.3995" stroke-dashoffset="-2.6998"/>
<path d="M389.66 125.62A203.29 203.29 0 0 1 462.94 155.97" stroke-width="2.42" stroke-dasharray="0.987 5.3995" stroke-dashoffset="-2.6998"/>
<path d="M462.94 155.97A203.29 203.29 0 0 1 519.03 212.06" stroke-width="2.42" stroke-dasharray="1.016 5.3705" stroke-dashoffset="-2.6853"/>
<path d="M519.03 212.06A203.29 203.29 0 0 1 549.38 285.34" stroke-width="2.42" stroke-dasharray="0.968 5.4189" stroke-dashoffset="-2.7094"/>
<circle cx="350" cy="325" r="185" stroke-width="4" stroke-dasharray="0.459 5.3531" stroke-dashoffset="0.2294"/>
<circle cx="350" cy="325" r="185" stroke-width="7" stroke-dasharray="0.459 11.1651" stroke-dashoffset="-2.6766"/>
<circle cx="350" cy="325" r="171.5" stroke-width="4" stroke-dasharray="0.343 10.4327" stroke-dashoffset="0.1715"/>
<circle cx="350" cy="325" r="163" stroke-width="2" stroke-dasharray="0.326 20.1572" stroke-dashoffset="0.1630"/>
<circle cx="350" cy="325" r="157" stroke-width="2" stroke-dasharray="0.283 19.4466" stroke-dashoffset="0.1413"/>
<circle cx="350" cy="325" r="148" stroke-width="2" stroke-dasharray="0.266 22.9814" stroke-dashoffset="0.1332"/>
<path d="M511.1 264.8L576.7 240.2" stroke-width="0.7"/>
<path d="M536.0 251.4L593.6 228.6" stroke-width="0.7"/>
<path d="M482.9 194.9L521.5 157.1" stroke-width="0.7"/>
<path d="M499.4 184.7L541.0 145.6" stroke-width="0.6"/>
</g>
</mask>
</defs>
<rect width="700" height="700" fill="#f8f8f8"/>
<g clip-path="url(#frame)">
<rect x="7" y="34" width="686" height="581" fill="#f8f8f8"/>
<path d="M7 94 20 99 30 103 33 106 26 109 20 108 16 111 19 115 26 115 36 118 37 115 48 112 60 106 72 107 77 109 82 107 95.7 106.4 98.6 110 102 113.6 103.6 115.7 105 112 114.3 112 118.6 115.7 123.6 113.6 126.4 110.7 129.3 107.9 132.9 109.3 141.4 110.7 150 112.9 161.4 112.9 170 114 173 111 182 107 196 103 208 101 211 99 208 92 212 88 213 80 218 77 222 83 223 88 220 94 221 97 225 94 224 88 224 81 228 75 226 70 223 69 225 62 229 55 231 48 233 40 235 34 243 34 242 40 239 48 238 55 241 59 246 58 253 58 260 54 262 57 264 63 270 59 274 59 278 62 282 66 286 73 288 80 286 87 280 91 274 96 273 102 277 108 286 104 296 102 299 106 303 108 300 113 294 117 286 118 284 122 290 126 296 130 302 132 304 138 298 144 296 152 290 160 284 164 283 171 276 172 270 171 260 175 248 178 236 182 226 185 218 187 220 190 218.6 195.7 214.3 198.6 212.9 208.6 208.6 211.4 212 216.4 204.3 217 198.6 220 200.7 224.3 192.9 225.7 188.6 231.4 181.4 237 175.7 242.9 170 244.3 168 246 164 256 158 261 162 263 167 259 168 266 172 273 166 276 160 279 154 284 151 290 156 294 164 298 170 297 170 301 158 302 151 303 154 308 164 310 174 308 182 305 190 309 198 314 194 319 182 316 174 318 164 322 158 326 160 330 150 332 147 337 156 339 168 339 170 348 166 354 158 353 150 352 144 356 138 348 139 340 134 340 130 338 122 336 119 335 113 328 105 324 102 318 96 312 86 306 76 302 67 302 64 309 58 311 48 313 49.6 320 45 328 43 336 38 340 35 350 32 354 32 368 20 370 10 371 7 372Z M7 393 18 390 28 386 32 388 38 392 48 396 56 394 64 388 70 382 78 385 84 383 90 381 98 379 106 378 107 383 105 388 108 394 106 400 102 406 100 414 96 420 90 422 85 426 81 435 87 439 96 442 102 440 104 444 100 450 94 456 90 462 82 468 77 470 75 476 75.6 482 73 486 75 492 70 498 74 500 69 505 71 512 64 518 60 523 54 519 48 515 40 512 30 510 24 500 20 490 14 478 8 471 7 471Z M164 526 160 521 156 509 153 497 158 486 166 470 172 464 176 454 184 446 194 443 200 442 204 444 209 439 202 437 200 431 210 426 212 433 217 430 217 424 214 422 214 418 219 414 224 410 229 408 231 403 237 397 239 393 241 387 240 381 237 376 234 373 236 369 240 366 241 363 246 365 248 360 249 356 254 356 259 359 263 363 268 364 269 361 274 360 281 361 287 359 291 361 294 363 295 368 301 370 307 369 313 370 320 373 324 377 325 383 328 387 324 388.6 318.6 387 316 388.6 321 390 324 391 320 395 317 398 323 398.6 327 396 331 396 334 401 330 406 324 410 320 414 317 420 315 428 314 434 309 435 306 439 309 442 309 450 304 456 300 460 298 464 292 466 288 471 286 474 289 478 288 484 285 488 280 489 277 485 272 484 278 479 280 484 281 490 276 494 266 496 256 495 246 493 240 495 229 501 214 499 203 494 201 500 194 506 183 509 171 517 164 526Z M258.6 544.3 261.4 534.3 258.6 532.9 262.9 522.9 267 521.4 268.6 527 272.9 531.4 280 528.6 288.6 530 294.3 532.9 298.6 540 295.7 547 285.7 551.4 274.3 552.9 267 548.6 261.4 544.3Z M10 527 19 526 30 524 40 523 52 522 57 525 52 529 38 530 43 534 39 540 43 544 46 550 40 551 41 557 34 559 37 562 32 566 25 569 23 563 28 560 24 555 17 555 17 551 24 551 20 542 15 534 10 528Z M12 488 14 486 16 496 15 506 12 500Z M26 110 32 105 46 101 62 98 64 100 58 104 48 109 36 112 27 113Z M84.3 93.6 91.4 92 96.4 93.6 104.3 95 110 98.6 102.9 104.3 100.7 100.7 94.3 97 87 95Z M108 106.4 118.6 106.4 124.3 109.3 127 111.4 123.6 113.6 118.6 115.7 114.3 112 110 109Z M211 60 214 54 217 50 223 53 221 58 219 63Z M303.6 87 308.6 84.3 315.7 86.4 316.4 88.6 311.4 89.3 305.7 88.6Z M282 59 289 57 291 59 284 62Z M562.4 34 561 45.4 554.7 53 550.3 59.6 551.4 64.7 554.7 60.9 562.4 55.7 568.9 49.3 571.4 42.9 576.6 34Z M342 155 348.6 152 354.3 152.9 354.3 155.7 350 158.6 345 157.9Z M438.6 205.7 441.4 202.9 444.3 207 443.6 210.7 440 212 437.9 209.3Z M424.3 217.9 430 216.4 437 218.6 441.4 222.9 440 227.9 434.3 231.4 430 227 426.4 225.7Z M415.7 207 418.6 205 421.4 210 422 214.3 419.3 212.9 416.4 210Z M442.9 304.3 447 300 452 297.9 454.3 302.9 456.4 307 450 307 444.3 305.7Z M428.6 317.9 432.9 314.3 440 311.4 447 308.6 450.7 310 448.6 315.7 442.9 321.4 438.6 322.9 432.9 320.7Z M459 370 462 367 465 370 466 380 469 390 474 402 480 412 488 418 498 417 495 422 488 427 480 427 476 422 472 414 466 406 461 396 459 384Z M490 446 493 444 496 447 495 450 491 450Z M382 405 385 403 388.6 404.3 391.4 403.6 391.4 410 388.6 413.6 384.3 414.3 382 411.4 380.7 407.9Z M367.9 415.7 372.9 412.9 377.9 410 380.7 408.6 380.7 412 383.6 417 385 421.4 385.7 430 385.7 440 380.7 437 377.9 432.9 376.4 427 371.4 425 369.3 420.7Z M385 418.6 391.4 423.6 396.4 425 395 430 390.7 430 389.3 425.7 385.7 422Z M207.9 232.9 218.6 231.4 221.4 237 227 241.4 232.9 245 231.4 251.4 228.6 255 224.3 252.9 217 248.6 211.4 244.3 206.4 239.3Z M166 246 170 242 172 252 179 248 186 244 190 248 188 254 194 248 202 245 210 249 214 258 216 262 212 266 208 272 204 278 208 283 204 287 196 283 186 282 180 284 174 290 168 288 166 280 171 274 170 266 166 261 159 260 164 254Z M186 298 193 293 199 291 201 297 206 296 210 300 207 305 200 304 196 307 189 306Z M212 322 220 320 228 319 232 312 235 313 233 319 228 324 224 326 222 334 224 342 220 348 215 344 212 336 211 328Z M228 330 234 327 242 328 249 333 256 334 261 331 262 340 260 346 252 348 244 347 238 345 233 349 230 344 228 336Z M238 314 241 311 242 318 239 320Z M244 309 252 310 248 315 244 314Z M244 320 252 318 260 319 261 328 254 329 246 326Z M245.7 280.7 250 277.9 254.3 280 255.7 284.3 252.9 290.7 250 287.9 247 285.7Z M238.6 295 245 295 245 297.3 239 296.5Z M246.4 302 250 298.6 254.3 297.9 258.6 299.3 257.9 302.9 254.3 306.4 248.6 306.4Z M228.6 277 235.7 277 240 274.3 241.4 270 237 265.7 242.9 271.4 248.6 272.9 251.4 275.7 250 271.4 251.4 265.7 247.9 261.4 248.6 255.7 244.3 255.7 241.4 260.7 236.4 263.6 230 264.3 227 268.6 222.9 270 222 274.3 225.7 275.7Z M220.7 291.4 222.9 284.3 228.6 280.7 234.3 281.4 238.6 284.3 234.3 286.4 230 287 225.7 290 222.9 292.9Z M123 372 130 371 134 378 136 383 144 382 154 387 160 384 162 378 168 374 166 369 174 366 176 361 170 359 172 352 168 348 176 346 186 350 192 356 198 350 204 348 208 352 208 356 198 362 198 368 194 376 190 382 187 389 180 394 174 396 170 400 169 408 168 418 164 424 154 426 148 422 150 416 153 409 150 408 144 413 140 420 136 426 130 430 126 424 127 418 128 412 124 416 120 424 116 426 115 418 118 410 118 402 124 398 126 390 127 382 123 378Z M150 372 156 369 160 373 156 378 151 376Z M250 318.6 258.6 317.9 268.6 319.3 272.9 320.7 270 323.6 265.7 326.4 263.6 330 265 334.3 268.6 339.3 271.4 342 270 337 267.9 331.4 268.6 327 272.9 325 278.6 327 284.3 331.4 289.3 337 292 344.3 292.9 352.9 290.7 358.6 285 359.3 282.9 361.4 280 359.3 271.4 357.9 264.3 355 258.6 353.6 250 351.4 246 347 250 340 247 333 250 326Z M112 340 108 346 116 352 113 362 118 364 122 358 130 352 136 346 138 340 128 338 120 338Z M99 353 102 352 104 357 101 359Z M96 369 103 368 102 372 97 372Z M10 373 12 372 13.6 378 10 380Z M377.4 599 380 611 389.5 615 400.4 603.8 405.3 602.6 410 615 436.4 615 435.6 609.8 433.2 601.4 438 590.4 439.3 583.6 432 577 427 563.7 432 549 434.4 539.4 433.2 529.7 438 524.9 445.3 526 446.6 532 443 544.3 441.7 556.4 446.6 566 447.8 574.6 453.8 577 462.3 572.2 468.4 566 475.7 562.5 485.4 562.5 484.2 563.7 480.6 569.8 468.4 572.2 463 583.6 470.8 590.4 473.3 600 466 602.6 461 606.2 460 615 693 615 693 34 588 34 581.7 46.7 570 53 562.4 59.6 565 66 566.3 75 571.4 75 577.9 77.6 580.4 81.4 575.3 82.7 574 87.9 579.7 90.4 577.9 95.6 568.9 94.3 553.4 95.6 538 98 530 101 520 100 514 97 508 92 502 89 496 85 492 86 486 82 485 79 488 78 487 74 480 73 476 71 469 70 468 76 462 81 452 86 438 82 443 71.5 430 77.5 417 84 421 77 426 70 435 69 440 67 443 64 448 57 456 54 464 51 466 53 469 48 476 44 480 39 483 34 441 34 437 41 439 45 435 52 432 56 430 61 422 59 416 61 412 58 406 60 400 56 395.7 55 391.4 58.6 385.7 61.4 380 65.7 374.3 68.6 368.6 72 362.9 75 358.6 74.3 354.3 72 351.4 75.7 352.9 80 355.7 87 360 92.9 358.6 95.7 352.9 97 348.6 101.4 346.4 107 350 109.3 347 110 342.9 104.3 338.6 102.9 334.3 98.6 328.6 95 322.9 93.6 320 97 317 102.9 312.9 111.4 317 115.7 322.9 118.6 328.6 120 334.3 122.9 338.6 127 344.3 130 350 134.3 355.7 138.6 362.9 142.9 370 145 378.6 146.4 380.7 138.6 384.3 136.4 387.9 141.4 384.3 147 391.4 144.3 398.6 147 407 150 412.9 153.6 411.4 158.6 412.9 164.3 418.6 168.6 427 170 430 172.9 430.7 180 432.9 187 438.6 194.3 445.7 202.9 450 204.3 454.3 201.4 457 197 462.9 201.4 465.7 207 471.4 208.6 472 212.9 478.6 210 481.4 214.3 480 220 472 224 469 230 471 240 477 244 479 241 483 248 481 257 485 264 479 270 482 273 487 266 488 274 495 282 490 279 480 274 472 271 464 275 461 282 466 289 460 292 457 298 464 302 470 302 472 308 476 310 477 318 482 326 488 333 495 333 496 340 496 349 506 350 508 346 512 346 513 350 508 353 505 358 509 360 513 362 517 360 514 366 508 366 505 370 498 372 500 371 510 373 520 376 528 377 533 373 536 377 544 382 552 388 554 392 550 394 546 388 540 382 534 380 526 380 516 377 491 373 494 378 500 382 506 389 514 393 524 395 533 396 526 400 518 406 510 412 503 416 509 417 517 417 519 423 514 424 512 430 511 438 505 436 502 444 503 452 500 460 504 462 504 468 496 470 494 464 490 460 483 465 490 466 494 472 500 476 500 481 495 484 492 489 495 496 500 500 496 507 495 512 488 514 482 512 478 507 474 503 466 503 462 500 470 500 478 498 486 494 490 488 489 482 484 478 476 477 468 476.4 460 477 453 480 447 479 444 482 439 481 440 478 438 475.6 429 475 427 480 423 479 418 484 414 490 408 496 407 501 402 506 406 508 400 513 396 518 401 518 400 526 398 536 395 546 390 556 386 564 380 569 373.7 580.7 375 592.8Z M458.7 586.8 462.3 590.4 461.1 595.3 458.2 592.8Z M442.9 605 446.6 602.6 446.1 609.8 442.9 611Z M314 615 317 612 320 612 321 615Z M324 615 326 613 334 613 336 615Z M317 577 319 575.5 321 576.5 319.5 578.5Z M566.3 85.3 570 83.5 570 87 567.5 88Z" fill="#b0b0b0" stroke="none" shape-rendering="crispEdges"/>
<path d="M128 109 133 113 133 117 128.6 118 135 119.3 135 113.6 144.3 120 147.9 122 147 116.4 141.4 117.9 133 109.5Z M486 505 491 503 495 507 492 510 488 509Z" fill="#f8f8f8" stroke="none" shape-rendering="crispEdges"/>
<g mask="url(#gaps)" shape-rendering="crispEdges">
<circle cx="350" cy="325" r="275" fill="#ff0000"/>
<path d="M183 226.4 198.6 224.3 212.9 223.6 232.9 221.4 250 220 264.3 215.7 278.6 211.4 292.9 207 307 200 318.6 191.4 327 181.4 332.9 171.4 340 157 341.4 135.7 344.3 115.7 345 115 370 117.9 394.3 120 411.4 122 417 137 422.9 154.3 430 168.6 444.3 176 462.9 182.9 480 191.4 501.4 199.3 500 207.9 494.3 217 490 228.6 497 241.4 503 252 485.7 255.7 471.4 260 457 267 442.9 275.7 431.4 285.7 424.3 295.7 420 305 408.6 307.9 392.9 312 375.7 317 366.4 320 350 325 364.3 334.3 378.6 342.9 392.9 354.3 407 366.4 407.9 375.7 407 384.3 406.4 402 398.6 405.7 395.7 412.9 397 421.4 405 428.6 399.3 433.6 392.9 431.4 388.6 428.6 384.3 420 380.7 411.4 379.3 408.6 372.9 410.7 373.6 408.6 371.4 398.6 367.9 384.3 364.3 368.6 360 354.3 355.7 340 350 325 337 310.7 328.6 303.6 314.3 290.7 300 280.7 280 271.4 271 269 256.5 265 244 262 232.9 256.4 224.3 251.4 205.7 239.3 188.6 231.4Z" fill="#ff00ff"/>
<path d="M394.3 120 411.4 122 417 137 422.9 154.3 430 168.6 444.3 176 462.9 182.9 480 191.4 501.4 199.3 500 207.9 484.3 206.4 470 201.4 455.7 198 444.3 192.9 432.9 184.3 422.9 171.4 417 164.3 412.9 155.7 405.7 145.7 400 132.9 395 120.7Z M232 257.5 244 262 256.5 265 271 269 280 271.4 300 280.7 314.3 290.7 328.6 303.6 337 310.7 350 325 333.6 324.7 275.7 324.7 270 319.3 262.9 314.3 262.9 308.6 254.3 307 247 306.4 240 303.6 230 299.3 219.3 294.3 219.3 291.4 222.9 278.6 227 268.6 230 258.6Z M350 325 355.7 340 360 354.3 364.3 368.6 367.9 384.3 371.4 398.6 373.6 408.6 372.9 410.7 364.3 412.9 350 413.6 341.4 413.6 337.9 404.3 333.6 394.3 337 377 340.7 361.4 344.3 344.3Z" fill="#9900ff"/>
<path d="M261.4 316.4 262.9 314.3 270 319.3 275.7 324.7 333.6 324.7 350 325 345.7 340.7 344.3 344.3 340.7 361.4 337 377 333.6 394.3 337.9 404.3 341.4 413.6 331.4 412 320 409.3 308.6 404.3 298.6 398.6 288.6 390 278.6 378.6 270 364.3 264.3 351.4 262 340 260.7 325.7 262 315.7Z M218.6 296 230 299.3 240 303.6 247 306.4 242.9 305.7 230 303.6 218.6 300.7Z" fill="#0000ff"/>
<path d="M272 366 276.5 369.5 287 383 296.4 395.5 293 395 283 384 272.5 369Z" fill="#0099ff"/>
</g>
<circle cx="350" cy="324.5" r="16.9" fill="#f8f8f8"/>
<path d="M7 94 20 99 30 103 33 106 26 109 20 108 16 111 19 115 26 115 36 118 37 115 48 112 60 106 72 107 77 109 82 107 95.7 106.4 98.6 110 102 113.6 103.6 115.7 105 112 114.3 112 118.6 115.7 123.6 113.6 126.4 110.7 129.3 107.9 132.9 109.3 141.4 110.7 150 112.9 161.4 112.9 170 114 173 111 182 107 196 103 208 101 211 99 208 92 212 88 213 80 218 77 222 83 223 88 220 94 221 97 225 94 224 88 224 81 228 75 226 70 223 69 225 62 229 55 231 48 233 40 235 34 243 34 242 40 239 48 238 55 241 59 246 58 253 58 260 54 262 57 264 63 270 59 274 59 278 62 282 66 286 73 288 80 286 87 280 91 274 96 273 102 277 108 286 104 296 102 299 106 303 108 300 113 294 117 286 118 284 122 290 126 296 130 302 132 304 138 298 144 296 152 290 160 284 164 283 171 276 172 270 171 260 175 248 178 236 182 226 185 218 187 220 190 218.6 195.7 214.3 198.6 212.9 208.6 208.6 211.4 212 216.4 204.3 217 198.6 220 200.7 224.3 192.9 225.7 188.6 231.4 181.4 237 175.7 242.9 170 244.3 168 246 164 256 158 261 162 263 167 259 168 266 172 273 166 276 160 279 154 284 151 290 156 294 164 298 170 297 170 301 158 302 151 303 154 308 164 310 174 308 182 305 190 309 198 314 194 319 182 316 174 318 164 322 158 326 160 330 150 332 147 337 156 339 168 339 170 348 166 354 158 353 150 352 144 356 138 348 139 340 134 340 130 338 122 336 119 335 113 328 105 324 102 318 96 312 86 306 76 302 67 302 64 309 58 311 48 313 49.6 320 45 328 43 336 38 340 35 350 32 354 32 368 20 370 10 371 7 372Z M7 393 18 390 28 386 32 388 38 392 48 396 56 394 64 388 70 382 78 385 84 383 90 381 98 379 106 378 107 383 105 388 108 394 106 400 102 406 100 414 96 420 90 422 85 426 81 435 87 439 96 442 102 440 104 444 100 450 94 456 90 462 82 468 77 470 75 476 75.6 482 73 486 75 492 70 498 74 500 69 505 71 512 64 518 60 523 54 519 48 515 40 512 30 510 24 500 20 490 14 478 8 471 7 471Z M164 526 160 521 156 509 153 497 158 486 166 470 172 464 176 454 184 446 194 443 200 442 204 444 209 439 202 437 200 431 210 426 212 433 217 430 217 424 214 422 214 418 219 414 224 410 229 408 231 403 237 397 239 393 241 387 240 381 237 376 234 373 236 369 240 366 241 363 246 365 248 360 249 356 254 356 259 359 263 363 268 364 269 361 274 360 281 361 287 359 291 361 294 363 295 368 301 370 307 369 313 370 320 373 324 377 325 383 328 387 324 388.6 318.6 387 316 388.6 321 390 324 391 320 395 317 398 323 398.6 327 396 331 396 334 401 330 406 324 410 320 414 317 420 315 428 314 434 309 435 306 439 309 442 309 450 304 456 300 460 298 464 292 466 288 471 286 474 289 478 288 484 285 488 280 489 277 485 272 484 278 479 280 484 281 490 276 494 266 496 256 495 246 493 240 495 229 501 214 499 203 494 201 500 194 506 183 509 171 517 164 526Z M258.6 544.3 261.4 534.3 258.6 532.9 262.9 522.9 267 521.4 268.6 527 272.9 531.4 280 528.6 288.6 530 294.3 532.9 298.6 540 295.7 547 285.7 551.4 274.3 552.9 267 548.6 261.4 544.3Z M10 527 19 526 30 524 40 523 52 522 57 525 52 529 38 530 43 534 39 540 43 544 46 550 40 551 41 557 34 559 37 562 32 566 25 569 23 563 28 560 24 555 17 555 17 551 24 551 20 542 15 534 10 528Z M12 488 14 486 16 496 15 506 12 500Z M26 110 32 105 46 101 62 98 64 100 58 104 48 109 36 112 27 113Z M84.3 93.6 91.4 92 96.4 93.6 104.3 95 110 98.6 102.9 104.3 100.7 100.7 94.3 97 87 95Z M108 106.4 118.6 106.4 124.3 109.3 127 111.4 123.6 113.6 118.6 115.7 114.3 112 110 109Z M211 60 214 54 217 50 223 53 221 58 219 63Z M303.6 87 308.6 84.3 315.7 86.4 316.4 88.6 311.4 89.3 305.7 88.6Z M282 59 289 57 291 59 284 62Z M562.4 34 561 45.4 554.7 53 550.3 59.6 551.4 64.7 554.7 60.9 562.4 55.7 568.9 49.3 571.4 42.9 576.6 34Z M342 155 348.6 152 354.3 152.9 354.3 155.7 350 158.6 345 157.9Z M438.6 205.7 441.4 202.9 444.3 207 443.6 210.7 440 212 437.9 209.3Z M424.3 217.9 430 216.4 437 218.6 441.4 222.9 440 227.9 434.3 231.4 430 227 426.4 225.7Z M415.7 207 418.6 205 421.4 210 422 214.3 419.3 212.9 416.4 210Z M442.9 304.3 447 300 452 297.9 454.3 302.9 456.4 307 450 307 444.3 305.7Z M428.6 317.9 432.9 314.3 440 311.4 447 308.6 450.7 310 448.6 315.7 442.9 321.4 438.6 322.9 432.9 320.7Z M459 370 462 367 465 370 466 380 469 390 474 402 480 412 488 418 498 417 495 422 488 427 480 427 476 422 472 414 466 406 461 396 459 384Z M490 446 493 444 496 447 495 450 491 450Z M382 405 385 403 388.6 404.3 391.4 403.6 391.4 410 388.6 413.6 384.3 414.3 382 411.4 380.7 407.9Z M367.9 415.7 372.9 412.9 377.9 410 380.7 408.6 380.7 412 383.6 417 385 421.4 385.7 430 385.7 440 380.7 437 377.9 432.9 376.4 427 371.4 425 369.3 420.7Z M385 418.6 391.4 423.6 396.4 425 395 430 390.7 430 389.3 425.7 385.7 422Z M207.9 232.9 218.6 231.4 221.4 237 227 241.4 232.9 245 231.4 251.4 228.6 255 224.3 252.9 217 248.6 211.4 244.3 206.4 239.3Z M166 246 170 242 172 252 179 248 186 244 190 248 188 254 194 248 202 245 210 249 214 258 216 262 212 266 208 272 204 278 208 283 204 287 196 283 186 282 180 284 174 290 168 288 166 280 171 274 170 266 166 261 159 260 164 254Z M186 298 193 293 199 291 201 297 206 296 210 300 207 305 200 304 196 307 189 306Z M212 322 220 320 228 319 232 312 235 313 233 319 228 324 224 326 222 334 224 342 220 348 215 344 212 336 211 328Z M228 330 234 327 242 328 249 333 256 334 261 331 262 340 260 346 252 348 244 347 238 345 233 349 230 344 228 336Z M238 314 241 311 242 318 239 320Z M244 309 252 310 248 315 244 314Z M244 320 252 318 260 319 261 328 254 329 246 326Z M245.7 280.7 250 277.9 254.3 280 255.7 284.3 252.9 290.7 250 287.9 247 285.7Z M238.6 295 245 295 245 297.3 239 296.5Z M246.4 302 250 298.6 254.3 297.9 258.6 299.3 257.9 302.9 254.3 306.4 248.6 306.4Z M228.6 277 235.7 277 240 274.3 241.4 270 237 265.7 242.9 271.4 248.6 272.9 251.4 275.7 250 271.4 251.4 265.7 247.9 261.4 248.6 255.7 244.3 255.7 241.4 260.7 236.4 263.6 230 264.3 227 268.6 222.9 270 222 274.3 225.7 275.7Z M220.7 291.4 222.9 284.3 228.6 280.7 234.3 281.4 238.6 284.3 234.3 286.4 230 287 225.7 290 222.9 292.9Z M123 372 130 371 134 378 136 383 144 382 154 387 160 384 162 378 168 374 166 369 174 366 176 361 170 359 172 352 168 348 176 346 186 350 192 356 198 350 204 348 208 352 208 356 198 362 198 368 194 376 190 382 187 389 180 394 174 396 170 400 169 408 168 418 164 424 154 426 148 422 150 416 153 409 150 408 144 413 140 420 136 426 130 430 126 424 127 418 128 412 124 416 120 424 116 426 115 418 118 410 118 402 124 398 126 390 127 382 123 378Z M150 372 156 369 160 373 156 378 151 376Z M250 318.6 258.6 317.9 268.6 319.3 272.9 320.7 270 323.6 265.7 326.4 263.6 330 265 334.3 268.6 339.3 271.4 342 270 337 267.9 331.4 268.6 327 272.9 325 278.6 327 284.3 331.4 289.3 337 292 344.3 292.9 352.9 290.7 358.6 285 359.3 282.9 361.4 280 359.3 271.4 357.9 264.3 355 258.6 353.6 250 351.4 246 347 250 340 247 333 250 326Z M112 340 108 346 116 352 113 362 118 364 122 358 130 352 136 346 138 340 128 338 120 338Z M99 353 102 352 104 357 101 359Z M96 369 103 368 102 372 97 372Z M10 373 12 372 13.6 378 10 380Z M377.4 599 380 611 389.5 615 400.4 603.8 405.3 602.6 410 615 436.4 615 435.6 609.8 433.2 601.4 438 590.4 439.3 583.6 432 577 427 563.7 432 549 434.4 539.4 433.2 529.7 438 524.9 445.3 526 446.6 532 443 544.3 441.7 556.4 446.6 566 447.8 574.6 453.8 577 462.3 572.2 468.4 566 475.7 562.5 485.4 562.5 484.2 563.7 480.6 569.8 468.4 572.2 463 583.6 470.8 590.4 473.3 600 466 602.6 461 606.2 460 615 693 615 693 34 588 34 581.7 46.7 570 53 562.4 59.6 565 66 566.3 75 571.4 75 577.9 77.6 580.4 81.4 575.3 82.7 574 87.9 579.7 90.4 577.9 95.6 568.9 94.3 553.4 95.6 538 98 530 101 520 100 514 97 508 92 502 89 496 85 492 86 486 82 485 79 488 78 487 74 480 73 476 71 469 70 468 76 462 81 452 86 438 82 443 71.5 430 77.5 417 84 421 77 426 70 435 69 440 67 443 64 448 57 456 54 464 51 466 53 469 48 476 44 480 39 483 34 441 34 437 41 439 45 435 52 432 56 430 61 422 59 416 61 412 58 406 60 400 56 395.7 55 391.4 58.6 385.7 61.4 380 65.7 374.3 68.6 368.6 72 362.9 75 358.6 74.3 354.3 72 351.4 75.7 352.9 80 355.7 87 360 92.9 358.6 95.7 352.9 97 348.6 101.4 346.4 107 350 109.3 347 110 342.9 104.3 338.6 102.9 334.3 98.6 328.6 95 322.9 93.6 320 97 317 102.9 312.9 111.4 317 115.7 322.9 118.6 328.6 120 334.3 122.9 338.6 127 344.3 130 350 134.3 355.7 138.6 362.9 142.9 370 145 378.6 146.4 380.7 138.6 384.3 136.4 387.9 141.4 384.3 147 391.4 144.3 398.6 147 407 150 412.9 153.6 411.4 158.6 412.9 164.3 418.6 168.6 427 170 430 172.9 430.7 180 432.9 187 438.6 194.3 445.7 202.9 450 204.3 454.3 201.4 457 197 462.9 201.4 465.7 207 471.4 208.6 472 212.9 478.6 210 481.4 214.3 480 220 472 224 469 230 471 240 477 244 479 241 483 248 481 257 485 264 479 270 482 273 487 266 488 274 495 282 490 279 480 274 472 271 464 275 461 282 466 289 460 292 457 298 464 302 470 302 472 308 476 310 477 318 482 326 488 333 495 333 496 340 496 349 506 350 508 346 512 346 513 350 508 353 505 358 509 360 513 362 517 360 514 366 508 366 505 370 498 372 500 371 510 373 520 376 528 377 533 373 536 377 544 382 552 388 554 392 550 394 546 388 540 382 534 380 526 380 516 377 491 373 494 378 500 382 506 389 514 393 524 395 533 396 526 400 518 406 510 412 503 416 509 417 517 417 519 423 514 424 512 430 511 438 505 436 502 444 503 452 500 460 504 462 504 468 496 470 494 464 490 460 483 465 490 466 494 472 500 476 500 481 495 484 492 489 495 496 500 500 496 507 495 512 488 514 482 512 478 507 474 503 466 503 462 500 470 500 478 498 486 494 490 488 489 482 484 478 476 477 468 476.4 460 477 453 480 447 479 444 482 439 481 440 478 438 475.6 429 475 427 480 423 479 418 484 414 490 408 496 407 501 402 506 406 508 400 513 396 518 401 518 400 526 398 536 395 546 390 556 386 564 380 569 373.7 580.7 375 592.8Z M458.7 586.8 462.3 590.4 461.1 595.3 458.2 592.8Z M442.9 605 446.6 602.6 446.1 609.8 442.9 611Z M314 615 317 612 320 612 321 615Z M324 615 326 613 334 613 336 615Z M317 577 319 575.5 321 576.5 319.5 578.5Z M566.3 85.3 570 83.5 570 87 567.5 88Z M128 109 133 113 133 117 128.6 118 135 119.3 135 113.6 144.3 120 147.9 122 147 116.4 141.4 117.9 133 109.5Z M486 505 491 503 495 507 492 510 488 509Z M113 336 110 342 107 348 112 350 110 356 102 353 99 354 104 360 M138 346 144 354 152 356 152 351 160 353 168 348 M234 370 240 364 246 366 249 357 256 356 264 364 268 360 270 368 276 374 280 376 M250 328.6 255.7 330.7 260 329.3 258.6 332.9 252.9 333.6 250 332 M250 355 255.7 357 260.7 361.4 265.7 364.3 268.6 363.6 267.9 360 M140 383 150 387 160 384 164 380 M204 334 206 342 204 336 196 334 188 337 194 338 200 340 204 348 208 352 207 358 202 360 199 354 198 349 193 352 196 360 200 368 194 372 192 380 M290.7 340 292.9 347 292 354.3" fill="none" stroke="#000" stroke-width="1" stroke-linejoin="round" shape-rendering="crispEdges"/>
<path d="M350 332h1M350 339h1M350 345h1M350 351h1M350 357h1M350 363h1M350 369h1M350 375h1M350 381h1M350 387h1M350 394h1M350 400h1M350 406h1M350 412h1M350 418h1M350 424h1M350 430h1M350 436h1M350 442h1M350 448h1M350 454h1M350 461h1M350 467h1M350 473h1M350 479h1M350 485h1M350 491h1M350 497h1M350 503h1M350 509h1M350 515h1M350 522h1M350 528h1M350 534h1M350 540h1M350 546h1M350 552h1M350 558h1M350 564h1M350 570h1M350 576h1M350 583h1M350 589h1M350 595h1M350 601h1M350 607h1M350 613h1M352 332h1M354 338h1M356 343h1M358 349h1M361 355h1M363 361h1M365 366h1M367 372h1M369 378h1M371 384h1M373 389h1M375 395h1M377 401h1M379 407h1M381 412h1M384 418h1M386 424h1M388 429h1M390 435h1M392 441h1M394 447h1M396 452h1M398 458h1M400 464h1M402 470h1M404 475h1M406 481h1M409 487h1M411 493h1M413 498h1M415 504h1M417 510h1M419 515h1M421 521h1M423 527h1M425 533h1M427 538h1M429 544h1M432 550h1M434 556h1M436 561h1M438 567h1M440 573h1M442 578h1M444 584h1M446 590h1M448 596h1M450 601h1M452 607h1M454 613h1M355 331h1M359 335h1M362 340h1M366 345h1M370 349h1M374 354h1M378 359h1M382 363h1M386 368h1M390 373h1M394 377h1M398 382h1M402 387h1M406 391h1M410 396h1M413 401h1M417 405h1M421 410h1M425 415h1M429 419h1M433 424h1M437 429h1M441 433h1M445 438h1M449 443h1M453 447h1M457 452h1M461 457h1M464 461h1M468 466h1M472 471h1M476 475h1M480 480h1M484 485h1M488 490h1M492 494h1M496 499h1M500 504h1M504 508h1M508 513h1M511 518h1M515 522h1M519 527h1M523 532h1M527 536h1M531 541h1M535 546h1M539 550h1M543 555h1M547 560h1M551 564h1M555 569h1M559 574h1M562 578h1M566 583h1M570 588h1M574 592h1M578 597h1M582 602h1M586 606h1M590 611h1M356 328h1M362 332h1M367 335h1M372 338h1M378 341h1M383 344h1M388 347h1M393 350h1M399 353h1M404 356h1M409 359h1M415 362h1M420 365h1M425 368h1M430 371h1M436 374h1M441 377h1M446 380h1M452 383h1M457 386h1M462 390h1M467 393h1M473 396h1M478 399h1M483 402h1M488 405h1M494 408h1M499 411h1M504 414h1M510 417h1M515 420h1M520 423h1M525 426h1M531 429h1M536 432h1M541 435h1M547 438h1M552 441h1M557 444h1M562 447h1M568 450h1M573 454h1M578 457h1M584 460h1M589 463h1M594 466h1M599 469h1M605 472h1M610 475h1M615 478h1M621 481h1M626 484h1M631 487h1M636 490h1M642 493h1M647 496h1M652 499h1M658 502h1M663 505h1M668 508h1M673 512h1M679 515h1M684 518h1M689 521h1M357 326h1M363 327h1M369 328h1M375 329h1M381 330h1M387 331h1M393 332h1M399 333h1M405 334h1M411 335h1M417 336h1M423 338h1M429 339h1M435 340h1M441 341h1M447 342h1M453 343h1M460 344h1M466 345h1M472 346h1M478 347h1M484 348h1M490 349h1M496 350h1M502 351h1M508 352h1M514 353h1M520 354h1M526 356h1M532 357h1M538 358h1M544 359h1M550 360h1M556 361h1M562 362h1M568 363h1M574 364h1M580 365h1M586 366h1M592 367h1M598 368h1M604 369h1M610 370h1M616 371h1M622 372h1M628 374h1M634 375h1M640 376h1M646 377h1M652 378h1M658 379h1M664 380h1M670 381h1M676 382h1M682 383h1M688 384h1M357 323h1M363 322h1M369 321h1M375 320h1M381 319h1M387 318h1M393 317h1M399 316h1M405 315h1M411 314h1M417 313h1M423 311h1M429 310h1M435 309h1M441 308h1M447 307h1M453 306h1M460 305h1M466 304h1M472 303h1M478 302h1M484 301h1M490 300h1M496 299h1M502 298h1M508 297h1M514 296h1M520 295h1M526 293h1M532 292h1M538 291h1M544 290h1M550 289h1M556 288h1M562 287h1M568 286h1M574 285h1M580 284h1M586 283h1M592 282h1M598 281h1M604 280h1M610 279h1M616 278h1M622 277h1M628 275h1M634 274h1M640 273h1M646 272h1M652 271h1M658 270h1M664 269h1M670 268h1M676 267h1M682 266h1M688 265h1M356 320h1M362 317h1M367 314h1M372 311h1M378 308h1M383 305h1M388 302h1M393 299h1M399 296h1M404 293h1M409 290h1M415 287h1M420 284h1M425 281h1M430 278h1M436 275h1M441 272h1M446 269h1M452 266h1M457 263h1M462 260h1M467 256h1M473 253h1M478 250h1M483 247h1M488 244h1M494 241h1M499 238h1M504 235h1M510 232h1M515 229h1M520 226h1M525 223h1M531 220h1M536 217h1M541 214h1M547 211h1M552 208h1M557 205h1M562 202h1M568 199h1M573 195h1M578 192h1M584 189h1M589 186h1M594 183h1M599 180h1M605 177h1M610 174h1M615 171h1M621 168h1M626 165h1M631 162h1M636 159h1M642 156h1M647 153h1M652 150h1M658 147h1M663 144h1M668 141h1M673 137h1M679 134h1M684 131h1M689 128h1M355 318h1M359 314h1M362 309h1M366 304h1M370 300h1M374 295h1M378 290h1M382 286h1M386 281h1M390 276h1M394 272h1M398 267h1M402 262h1M406 258h1M410 253h1M413 248h1M417 244h1M421 239h1M425 234h1M429 230h1M433 225h1M437 220h1M441 216h1M445 211h1M449 206h1M453 202h1M457 197h1M461 192h1M464 188h1M468 183h1M472 178h1M476 174h1M480 169h1M484 164h1M488 159h1M492 155h1M496 150h1M500 145h1M504 141h1M508 136h1M511 131h1M515 127h1M519 122h1M523 117h1M527 113h1M531 108h1M535 103h1M539 99h1M543 94h1M547 89h1M551 85h1M555 80h1M559 75h1M562 71h1M566 66h1M570 61h1M574 57h1M578 52h1M582 47h1M586 43h1M590 38h1M352 317h1M354 311h1M356 306h1M358 300h1M361 294h1M363 288h1M365 283h1M367 277h1M369 271h1M371 265h1M373 260h1M375 254h1M377 248h1M379 242h1M381 237h1M384 231h1M386 225h1M388 220h1M390 214h1M392 208h1M394 202h1M396 197h1M398 191h1M400 185h1M402 179h1M404 174h1M406 168h1M409 162h1M411 156h1M413 151h1M415 145h1M417 139h1M419 134h1M421 128h1M423 122h1M425 116h1M427 111h1M429 105h1M432 99h1M434 93h1M436 88h1M438 82h1M440 76h1M442 71h1M444 65h1M446 59h1M448 53h1M450 48h1M452 42h1M454 36h1M350 316h1M350 310h1M350 304h1M350 298h1M350 292h1M350 286h1M350 280h1M350 274h1M350 268h1M350 262h1M350 256h1M350 249h1M350 243h1M350 237h1M350 231h1M350 225h1M350 219h1M350 213h1M350 207h1M350 201h1M350 195h1M350 188h1M350 182h1M350 176h1M350 170h1M350 164h1M350 158h1M350 152h1M350 146h1M350 140h1M350 134h1M350 127h1M350 121h1M350 115h1M350 109h1M350 103h1M350 97h1M350 91h1M350 85h1M350 79h1M350 73h1M350 66h1M350 60h1M350 54h1M350 48h1M350 42h1M350 36h1M347 317h1M345 311h1M343 306h1M341 300h1M338 294h1M336 288h1M334 283h1M332 277h1M330 271h1M328 265h1M326 260h1M324 254h1M322 248h1M320 242h1M318 237h1M315 231h1M313 225h1M311 220h1M309 214h1M307 208h1M305 202h1M303 197h1M301 191h1M299 185h1M297 179h1M295 174h1M293 168h1M290 162h1M288 156h1M286 151h1M284 145h1M282 139h1M280 134h1M278 128h1M276 122h1M274 116h1M272 111h1M270 105h1M267 99h1M265 93h1M263 88h1M261 82h1M259 76h1M257 71h1M255 65h1M253 59h1M251 53h1M249 48h1M247 42h1M245 36h1M344 318h1M340 314h1M337 309h1M333 304h1M329 300h1M325 295h1M321 290h1M317 286h1M313 281h1M309 276h1M305 272h1M301 267h1M297 262h1M293 258h1M289 253h1M286 248h1M282 244h1M278 239h1M274 234h1M270 230h1M266 225h1M262 220h1M258 216h1M254 211h1M250 206h1M246 202h1M242 197h1M238 192h1M235 188h1M231 183h1M227 178h1M223 174h1M219 169h1M215 164h1M211 159h1M207 155h1M203 150h1M199 145h1M195 141h1M191 136h1M188 131h1M184 127h1M180 122h1M176 117h1M172 113h1M168 108h1M164 103h1M160 99h1M156 94h1M152 89h1M148 85h1M144 80h1M140 75h1M137 71h1M133 66h1M129 61h1M125 57h1M121 52h1M117 47h1M113 43h1M109 38h1M343 320h1M337 317h1M332 314h1M327 311h1M321 308h1M316 305h1M311 302h1M306 299h1M300 296h1M295 293h1M290 290h1M284 287h1M279 284h1M274 281h1M269 278h1M263 275h1M258 272h1M253 269h1M247 266h1M242 263h1M237 260h1M232 256h1M226 253h1M221 250h1M216 247h1M211 244h1M205 241h1M200 238h1M195 235h1M189 232h1M184 229h1M179 226h1M174 223h1M168 220h1M163 217h1M158 214h1M152 211h1M147 208h1M142 205h1M137 202h1M131 198h1M126 195h1M121 192h1M115 189h1M110 186h1M105 183h1M100 180h1M94 177h1M89 174h1M84 171h1M78 168h1M73 165h1M68 162h1M63 159h1M57 156h1M52 153h1M47 150h1M41 147h1M36 144h1M31 141h1M26 137h1M20 134h1M15 131h1M10 128h1M342 323h1M336 322h1M330 321h1M324 320h1M318 319h1M312 318h1M306 317h1M300 316h1M294 315h1M288 314h1M282 313h1M276 311h1M270 310h1M264 309h1M258 308h1M252 307h1M246 306h1M239 305h1M233 304h1M227 303h1M221 302h1M215 301h1M209 300h1M203 299h1M197 298h1M191 297h1M185 296h1M179 295h1M173 293h1M167 292h1M161 291h1M155 290h1M149 289h1M143 288h1M137 287h1M131 286h1M125 285h1M119 284h1M113 283h1M107 282h1M101 281h1M95 280h1M89 279h1M83 278h1M77 277h1M71 275h1M65 274h1M59 273h1M53 272h1M47 271h1M41 270h1M35 269h1M29 268h1M23 267h1M17 266h1M11 265h1M342 326h1M336 327h1M330 328h1M324 329h1M318 330h1M312 331h1M306 332h1M300 333h1M294 334h1M288 335h1M282 336h1M276 338h1M270 339h1M264 340h1M258 341h1M252 342h1M246 343h1M239 344h1M233 345h1M227 346h1M221 347h1M215 348h1M209 349h1M203 350h1M197 351h1M191 352h1M185 353h1M179 354h1M173 356h1M167 357h1M161 358h1M155 359h1M149 360h1M143 361h1M137 362h1M131 363h1M125 364h1M119 365h1M113 366h1M107 367h1M101 368h1M95 369h1M89 370h1M83 371h1M77 372h1M71 374h1M65 375h1M59 376h1M53 377h1M47 378h1M41 379h1M35 380h1M29 381h1M23 382h1M17 383h1M11 384h1M343 328h1M337 332h1M332 335h1M327 338h1M321 341h1M316 344h1M311 347h1M306 350h1M300 353h1M295 356h1M290 359h1M284 362h1M279 365h1M274 368h1M269 371h1M263 374h1M258 377h1M253 380h1M247 383h1M242 386h1M237 390h1M232 393h1M226 396h1M221 399h1M216 402h1M211 405h1M205 408h1M200 411h1M195 414h1M189 417h1M184 420h1M179 423h1M174 426h1M168 429h1M163 432h1M158 435h1M152 438h1M147 441h1M142 444h1M137 447h1M131 450h1M126 454h1M121 457h1M115 460h1M110 463h1M105 466h1M100 469h1M94 472h1M89 475h1M84 478h1M78 481h1M73 484h1M68 487h1M63 490h1M57 493h1M52 496h1M47 499h1M41 502h1M36 505h1M31 508h1M26 512h1M20 515h1M15 518h1M10 521h1M344 331h1M340 335h1M337 340h1M333 345h1M329 349h1M325 354h1M321 359h1M317 363h1M313 368h1M309 373h1M305 377h1M301 382h1M297 387h1M293 391h1M289 396h1M286 401h1M282 405h1M278 410h1M274 415h1M270 419h1M266 424h1M262 429h1M258 433h1M254 438h1M250 443h1M246 447h1M242 452h1M238 457h1M235 461h1M231 466h1M227 471h1M223 475h1M219 480h1M215 485h1M211 490h1M207 494h1M203 499h1M199 504h1M195 508h1M191 513h1M188 518h1M184 522h1M180 527h1M176 532h1M172 536h1M168 541h1M164 546h1M160 550h1M156 555h1M152 560h1M148 564h1M144 569h1M140 574h1M137 578h1M133 583h1M129 588h1M125 592h1M121 597h1M117 602h1M113 606h1M109 611h1M347 332h1M345 338h1M343 343h1M341 349h1M338 355h1M336 361h1M334 366h1M332 372h1M330 378h1M328 384h1M326 389h1M324 395h1M322 401h1M320 407h1M318 412h1M315 418h1M313 424h1M311 429h1M309 435h1M307 441h1M305 447h1M303 452h1M301 458h1M299 464h1M297 470h1M295 475h1M293 481h1M290 487h1M288 493h1M286 498h1M284 504h1M282 510h1M280 515h1M278 521h1M276 527h1M274 533h1M272 538h1M270 544h1M267 550h1M265 556h1M263 561h1M261 567h1M259 573h1M257 578h1M255 584h1M253 590h1M251 596h1M249 601h1M247 607h1M245 613h1M439 324h1M439 331h1M438 337h1M437 343h1M436 349h1M434 355h1M432 360h1M429 366h1M426 371h1M423 376h1M419 381h1M415 386h1M411 390h1M406 394h1M401 398h1M396 401h1M391 404h1M385 407h1M380 409h1M374 411h1M368 412h1M362 413h1M356 414h1M350 414h1M343 414h1M337 413h1M331 412h1M325 411h1M319 409h1M314 407h1M308 404h1M303 401h1M298 398h1M293 394h1M288 390h1M284 386h1M280 381h1M276 376h1M273 371h1M270 366h1M267 360h1M265 355h1M263 349h1M262 343h1M261 337h1M260 331h1M260 324h1M260 318h1M261 312h1M262 306h1M263 300h1M265 294h1M267 289h1M270 283h1M273 278h1M276 273h1M280 268h1M284 263h1M288 259h1M293 255h1M298 251h1M303 248h1M308 245h1M314 242h1M319 240h1M325 238h1M331 237h1M337 236h1M343 235h1M350 235h1M356 235h1M362 236h1M368 237h1M374 238h1M380 240h1M385 242h1M391 245h1M396 248h1M401 251h1M406 255h1M411 259h1M415 263h1M419 268h1M423 273h1M426 278h1M429 283h1M432 289h1M434 294h1M436 300h1M437 306h1M438 312h1M439 318h1M624 324h1M624 331h1M624 337h1M624 343h1M623 349h1M623 355h1M622 361h1M621 367h1M620 373h1M619 379h1M618 385h1M616 391h1M615 397h1M613 403h1M611 409h1M609 414h1M607 420h1M605 426h1M603 431h1M600 437h1M598 443h1M595 448h1M592 454h1M589 459h1M586 464h1M583 469h1M580 475h1M577 480h1M573 485h1M569 490h1M566 494h1M562 499h1M558 504h1M554 508h1M550 513h1M546 517h1M541 522h1M537 526h1M532 530h1M528 534h1M523 538h1M518 542h1M513 545h1M508 549h1M503 552h1M498 556h1M493 559h1M488 562h1M483 565h1M477 568h1M472 571h1M466 573h1M461 576h1M455 578h1M449 581h1M444 583h1M438 585h1M432 587h1M426 589h1M420 590h1M415 592h1M409 593h1M403 594h1M397 595h1M391 596h1M385 597h1M378 598h1M372 599h1M366 599h1M360 599h1M354 599h1M348 599h1M342 599h1M336 599h1M330 599h1M324 598h1M318 598h1M311 597h1M305 596h1M299 595h1M293 594h1M287 592h1M282 591h1M276 589h1M270 588h1M264 586h1M258 584h1M252 582h1M247 580h1M241 577h1M236 575h1M230 572h1M225 569h1M219 567h1M214 564h1M208 561h1M203 557h1M198 554h1M193 551h1M188 547h1M183 544h1M178 540h1M174 536h1M169 532h1M164 528h1M160 524h1M156 519h1M151 515h1M147 511h1M143 506h1M139 502h1M135 497h1M131 492h1M128 487h1M124 482h1M121 477h1M117 472h1M114 467h1M111 462h1M108 456h1M105 451h1M102 445h1M100 440h1M97 434h1M95 429h1M93 423h1M91 417h1M89 412h1M87 406h1M85 400h1M83 394h1M82 388h1M81 382h1M79 376h1M78 370h1M77 364h1M77 358h1M76 352h1M75 346h1M75 340h1M75 334h1M75 328h1M75 321h1M75 315h1M75 309h1M75 303h1M76 297h1M77 291h1M77 285h1M78 279h1M79 273h1M81 267h1M82 261h1M83 255h1M85 249h1M87 243h1M89 237h1M91 232h1M93 226h1M95 220h1M97 215h1M100 209h1M102 204h1M105 198h1M108 193h1M111 187h1M114 182h1M117 177h1M121 172h1M124 167h1M128 162h1M131 157h1M135 152h1M139 147h1M143 143h1M147 138h1M151 134h1M156 130h1M160 125h1M164 121h1M169 117h1M174 113h1M178 109h1M183 105h1M188 102h1M193 98h1M198 95h1M203 92h1M208 88h1M214 85h1M219 82h1M225 80h1M230 77h1M236 74h1M241 72h1M247 69h1M252 67h1M258 65h1M264 63h1M270 61h1M276 60h1M282 58h1M287 57h1M293 55h1M299 54h1M305 53h1M311 52h1M318 51h1M324 51h1M330 50h1M336 50h1M342 50h1M348 50h1M354 50h1M360 50h1M366 50h1M372 50h1M378 51h1M385 52h1M391 53h1M397 54h1M403 55h1M409 56h1M415 57h1M420 59h1M426 60h1M432 62h1M438 64h1M444 66h1M449 68h1M455 71h1M461 73h1M466 76h1M472 78h1M477 81h1M483 84h1M488 87h1M493 90h1M498 93h1M503 97h1M508 100h1M513 104h1M518 107h1M523 111h1M528 115h1M532 119h1M537 123h1M541 127h1M546 132h1M550 136h1M554 141h1M558 145h1M562 150h1M566 155h1M569 159h1M573 164h1M577 169h1M580 174h1M583 180h1M586 185h1M589 190h1M592 195h1M595 201h1M598 206h1M600 212h1M603 218h1M605 223h1M607 229h1M609 235h1M611 240h1M613 246h1M615 252h1M616 258h1M618 264h1M619 270h1M620 276h1M621 282h1M622 288h1M623 294h1M623 300h1M624 306h1M624 312h1M624 318h1" fill="none" stroke="#000" stroke-width="1" shape-rendering="crispEdges" transform="translate(0,0.5)"/>
<path d="M349.5 323v5M351.5 323v5M348 323.5h5M348 327.5h5" stroke="#000" stroke-width="1" fill="none" shape-rendering="crispEdges"/>
<g font-size="10.5" fill="#000" text-anchor="middle">
<text x="350.5" y="414.5" textLength="14" lengthAdjust="spacingAndGlyphs">80</text>
<text x="350.5" y="599" textLength="14" lengthAdjust="spacingAndGlyphs">60</text>
</g>
</g>
<rect x="7.5" y="34.5" width="686" height="581" fill="none" stroke="#000" stroke-width="1" shape-rendering="crispEdges"/>
<g font-size="13" fill="#000">
<text y="27.5"><tspan x="107.5" textLength="40" lengthAdjust="spacingAndGlyphs">Global</tspan> <tspan x="156" textLength="39" lengthAdjust="spacingAndGlyphs">Snow</tspan> <tspan x="198" textLength="37.5" lengthAdjust="spacingAndGlyphs">Depth</tspan> <tspan x="243" textLength="15" lengthAdjust="spacingAndGlyphs">for</tspan> <tspan x="268" textLength="43.5" lengthAdjust="spacingAndGlyphs">30-Day</tspan> <tspan x="321" textLength="30" lengthAdjust="spacingAndGlyphs">Data</tspan> <tspan x="360.5" textLength="33.5" lengthAdjust="spacing">Take</tspan> <tspan x="406.5" textLength="22" lengthAdjust="spacingAndGlyphs">144</tspan> <tspan x="437" textLength="73" lengthAdjust="spacingAndGlyphs">(07/2022)</tspan> <tspan x="518" textLength="73.5" lengthAdjust="spacingAndGlyphs">Baseline-E</tspan></text>
</g>
<g font-size="13" fill="#000">
<text y="641"><tspan x="293.5" textLength="30.5" lengthAdjust="spacingAndGlyphs">Snow</tspan> <tspan x="331.5" textLength="33.5" lengthAdjust="spacingAndGlyphs">Depth</tspan> <tspan x="373" textLength="34" lengthAdjust="spacingAndGlyphs">(mm)</tspan></text>
</g>
<g shape-rendering="crispEdges">
<rect x="105" y="646" width="49" height="35" fill="#ff00ff"/><rect x="154" y="646" width="49" height="35" fill="#9900ff"/><rect x="203" y="646" width="49" height="35" fill="#0000ff"/><rect x="252" y="646" width="49" height="35" fill="#0099ff"/><rect x="301" y="646" width="49" height="35" fill="#00ffff"/><rect x="350" y="646" width="49" height="35" fill="#00ff99"/><rect x="399" y="646" width="49" height="35" fill="#00ff00"/><rect x="448" y="646" width="49" height="35" fill="#99ff00"/><rect x="497" y="646" width="49" height="35" fill="#ffff00"/><rect x="546" y="646" width="49" height="35" fill="#ff9900"/>
<rect x="106" y="647" width="1" height="34" fill="#ff0000"/>
<rect x="105.5" y="646.5" width="490" height="35" fill="none" stroke="#000" stroke-width="1"/>
<path d="M130.5 646v4M130.5 681v-4M154.5 646v4M154.5 681v-4M179.5 646v4M179.5 681v-4M203.5 646v4M203.5 681v-4M228.5 646v4M228.5 681v-4M252.5 646v4M252.5 681v-4M277.5 646v4M277.5 681v-4M301.5 646v4M301.5 681v-4M326.5 646v4M326.5 681v-4M350.5 646v4M350.5 681v-4M375.5 646v4M375.5 681v-4M399.5 646v4M399.5 681v-4M424.5 646v4M424.5 681v-4M448.5 646v4M448.5 681v-4M473.5 646v4M473.5 681v-4M497.5 646v4M497.5 681v-4M522.5 646v4M522.5 681v-4M546.5 646v4M546.5 681v-4M571.5 646v4M571.5 681v-4" stroke="#000" stroke-width="1" fill="none"/>
</g>
<g font-size="11" fill="#000">
<text x="105" y="697" text-anchor="middle">0</text><text x="154" y="697" text-anchor="middle">48</text><text x="203" y="697" text-anchor="middle">96</text><text x="252" y="697" text-anchor="middle">144</text><text x="301" y="697" text-anchor="middle">192</text><text x="350" y="697" text-anchor="middle">240</text><text x="399" y="697" text-anchor="middle">288</text><text x="448" y="697" text-anchor="middle">336</text><text x="497" y="697" text-anchor="middle">384</text><text x="546" y="697" text-anchor="middle">432</text><text x="595" y="697" text-anchor="middle">480</text>
<text x="603" y="664.5" fill="#ff9900" style="stroke:#ff9900" textLength="23" lengthAdjust="spacingAndGlyphs">+-&gt;</text>
<text x="632" y="664.8" textLength="17" lengthAdjust="spacingAndGlyphs">149</text>
</g>
</svg>
</body></html>
